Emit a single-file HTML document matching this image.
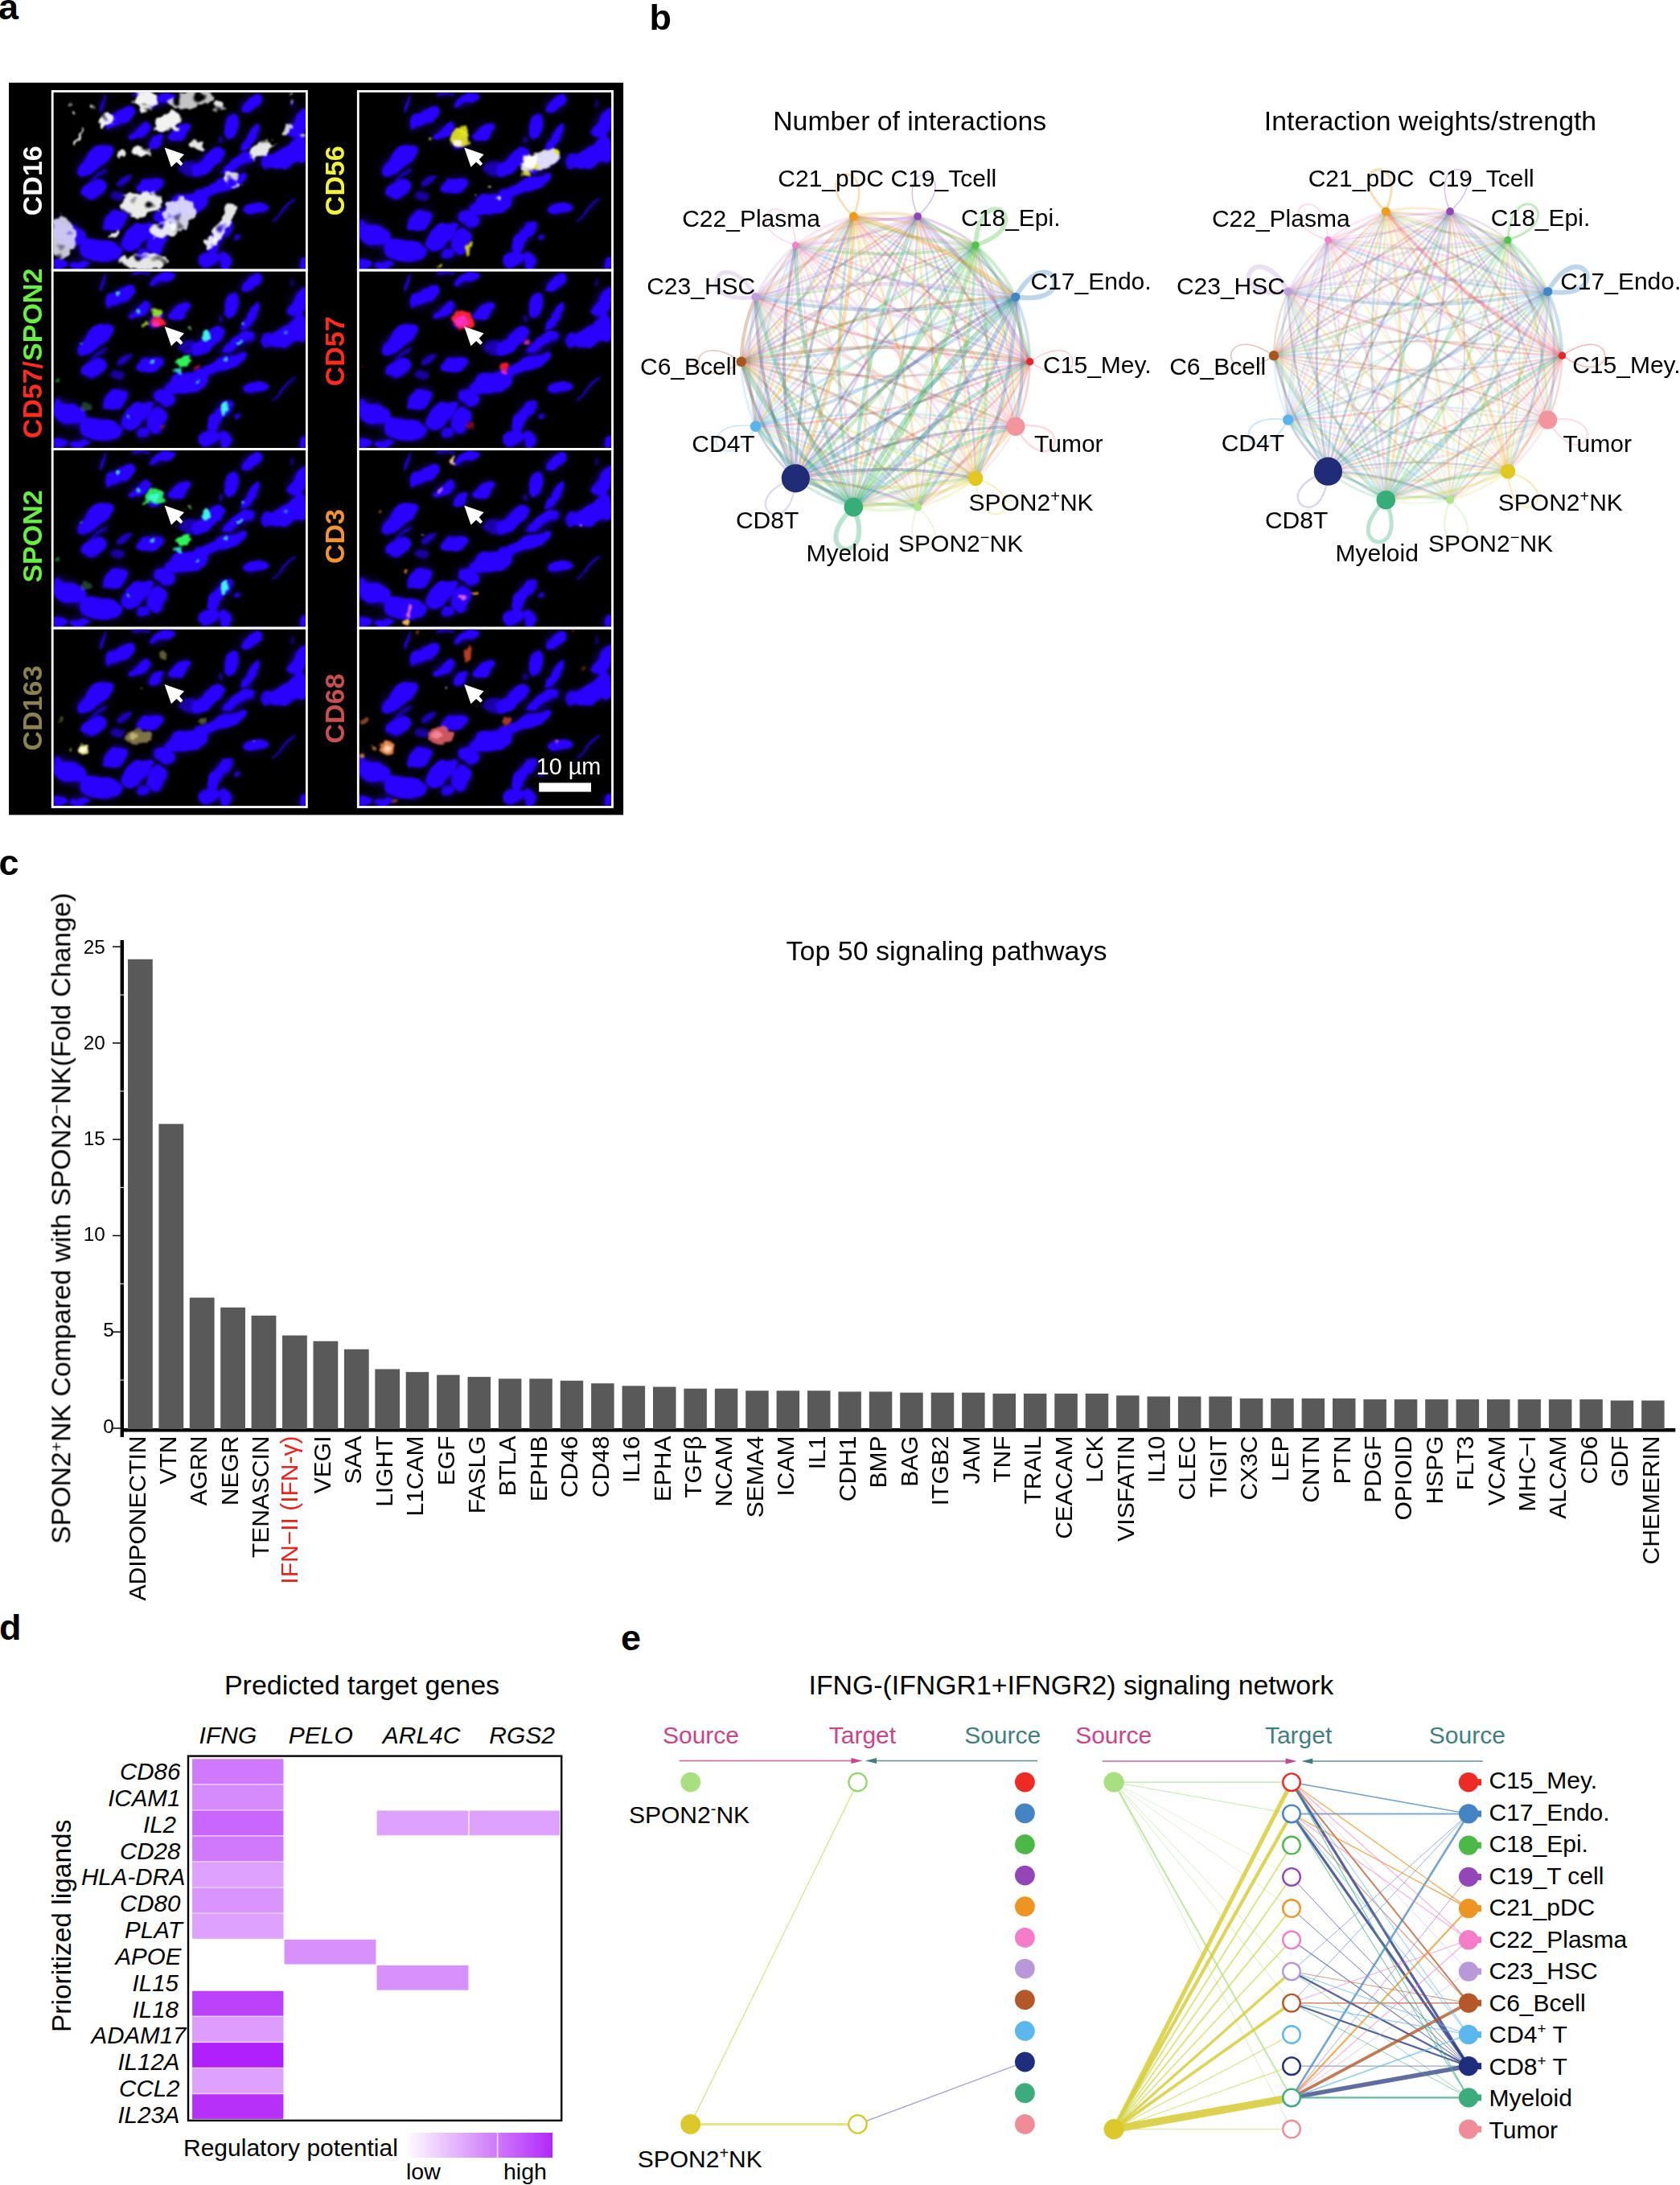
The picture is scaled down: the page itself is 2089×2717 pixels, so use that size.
<!DOCTYPE html>
<html lang="en"><head><meta charset="utf-8"><title>Figure</title>
<style>
html,body{margin:0;padding:0;background:#fff;}
body{width:2089px;height:2717px;overflow:hidden;}
svg{display:block;font-family:"Liberation Sans", sans-serif;}
svg text{font-family:"Liberation Sans", sans-serif;}
</style></head><body>
<svg width="2089" height="2717" viewBox="0 0 2089 2717">
<rect width="2089" height="2717" fill="#fff"/>
<g id="panel_a">
<text x="-2.0" y="23.6" font-size="45" font-weight="bold">a</text>
<rect x="11" y="102.8" width="764.1" height="910.5" fill="#000"/>
<defs><filter id="bl" x="-5%" y="-5%" width="110%" height="110%"><feGaussianBlur stdDeviation="1.3"/></filter><filter id="rg" x="-5%" y="-5%" width="110%" height="110%"><feTurbulence type="fractalNoise" baseFrequency="0.045" numOctaves="2" seed="4" result="n"/><feDisplacementMap in="SourceGraphic" in2="n" scale="13" xChannelSelector="R" yChannelSelector="G"/><feGaussianBlur stdDeviation="1.1"/></filter><filter id="rg2" x="-5%" y="-5%" width="110%" height="110%"><feTurbulence type="fractalNoise" baseFrequency="0.09" numOctaves="2" seed="9" result="n"/><feDisplacementMap in="SourceGraphic" in2="n" scale="16" xChannelSelector="R" yChannelSelector="G" result="d"/><feTurbulence type="fractalNoise" baseFrequency="0.075" numOctaves="1" seed="5" result="n2"/><feColorMatrix in="n2" type="matrix" values="0 0 0 0 1  0 0 0 0 1  0 0 0 0 1  7 0 0 0 -2.0" result="m"/><feComposite in="d" in2="m" operator="in"/><feGaussianBlur stdDeviation="0.9"/></filter><filter id="glow" x="-10%" y="-10%" width="120%" height="120%"><feGaussianBlur stdDeviation="5"/></filter><filter id="rg3" x="-5%" y="-5%" width="110%" height="110%"><feTurbulence type="fractalNoise" baseFrequency="0.11" numOctaves="2" seed="3" result="n"/><feDisplacementMap in="SourceGraphic" in2="n" scale="9" xChannelSelector="R" yChannelSelector="G"/><feGaussianBlur stdDeviation="1.1"/></filter><g id="cshape"><ellipse cx="81.9" cy="31.8" rx="20.5" ry="9.2" fill="#2a00ff" transform="rotate(-30 81.9 31.8)"/><ellipse cx="60.9" cy="14.1" rx="2.1" ry="11.9" fill="#2a00ff" opacity="0.9" transform="rotate(20 60.9 14.1)"/><ellipse cx="134.6" cy="9.2" rx="17.3" ry="5.8" fill="#2a00ff" transform="rotate(-25 134.6 9.2)"/><ellipse cx="106.1" cy="3.3" rx="10.8" ry="2.3" fill="#2a00ff" opacity="0.8" transform="rotate(-10 106.1 3.3)"/><ellipse cx="107.1" cy="48.5" rx="16.2" ry="6.9" fill="#2a00ff" transform="rotate(-30 107.1 48.5)"/><ellipse cx="156.2" cy="49.9" rx="16.2" ry="8.1" fill="#2a00ff" transform="rotate(-35 156.2 49.9)"/><ellipse cx="126.7" cy="61.3" rx="10.8" ry="6.9" fill="#2a00ff" transform="rotate(-20 126.7 61.3)"/><ellipse cx="51.1" cy="84.9" rx="27.0" ry="11.2" fill="#2a00ff" transform="rotate(-38 51.1 84.9)"/><ellipse cx="50.1" cy="121.2" rx="16.2" ry="9.2" fill="#2a00ff" transform="rotate(-25 50.1 121.2)"/><ellipse cx="56.0" cy="105.5" rx="17.3" ry="2.7" fill="#2a00ff" opacity="0.6" transform="rotate(-35 56.0 105.5)"/><ellipse cx="87.4" cy="109.4" rx="8.6" ry="3.9" fill="#2a00ff" opacity="0.7" transform="rotate(-30 87.4 109.4)"/><ellipse cx="120.8" cy="114.7" rx="17.3" ry="8.9" fill="#2a00ff" transform="rotate(-10 120.8 114.7)"/><ellipse cx="79.6" cy="128.1" rx="8.6" ry="6.2" fill="#2a00ff" opacity="0.55"/><ellipse cx="77.6" cy="158.5" rx="17.3" ry="11.2" fill="#2a00ff" transform="rotate(-35 77.6 158.5)"/><ellipse cx="18.7" cy="177.2" rx="20.5" ry="15.0" fill="#2a00ff" transform="rotate(20 18.7 177.2)"/><ellipse cx="57.9" cy="196.8" rx="28.1" ry="13.1" fill="#2a00ff" transform="rotate(10 57.9 196.8)"/><ellipse cx="103.1" cy="179.1" rx="23.8" ry="11.2" fill="#2a00ff" transform="rotate(-35 103.1 179.1)"/><ellipse cx="128.7" cy="186.0" rx="10.6" ry="16.2" fill="#2a00ff" transform="rotate(15 128.7 186.0)"/><ellipse cx="137.5" cy="156.6" rx="15.1" ry="10.6" fill="#2a00ff" transform="rotate(20 137.5 156.6)"/><ellipse cx="166.0" cy="138.9" rx="27.0" ry="12.1" fill="#2a00ff" transform="rotate(-10 166.0 138.9)"/><ellipse cx="211.2" cy="115.3" rx="30.3" ry="7.3" fill="#2a00ff" transform="rotate(-22 211.2 115.3)"/><ellipse cx="191.5" cy="86.8" rx="25.9" ry="9.2" fill="#2a00ff" transform="rotate(-40 191.5 86.8)"/><ellipse cx="228.8" cy="88.8" rx="25.9" ry="7.3" fill="#2a00ff" transform="rotate(-30 228.8 88.8)"/><ellipse cx="167.9" cy="94.7" rx="13.0" ry="9.2" fill="#2a00ff" opacity="0.55"/><ellipse cx="222.0" cy="42.6" rx="7.7" ry="16.2" fill="#2a00ff" transform="rotate(10 222.0 42.6)"/><ellipse cx="245.5" cy="57.4" rx="5.8" ry="19.4" fill="#2a00ff" transform="rotate(32 245.5 57.4)"/><ellipse cx="245.5" cy="14.1" rx="15.1" ry="8.3" fill="#2a00ff" transform="rotate(-35 245.5 14.1)"/><ellipse cx="305.4" cy="39.7" rx="10.6" ry="20.5" fill="#2a00ff" transform="rotate(25 305.4 39.7)"/><ellipse cx="291.7" cy="79.0" rx="25.9" ry="11.9" fill="#2a00ff" transform="rotate(-25 291.7 79.0)"/><ellipse cx="307.4" cy="71.1" rx="7.7" ry="17.3" fill="#2a00ff"/><ellipse cx="250.4" cy="144.8" rx="15.6" ry="5.8" fill="#2a00ff" transform="rotate(-8 250.4 144.8)"/><ellipse cx="204.3" cy="181.1" rx="6.9" ry="21.6" fill="#2a00ff" transform="rotate(22 204.3 181.1)"/><ellipse cx="216.1" cy="170.3" rx="4.6" ry="8.6" fill="#2a00ff" opacity="0.9"/><ellipse cx="226.9" cy="180.1" rx="2.7" ry="3.7" fill="#2a00ff" opacity="0.8"/><ellipse cx="193.5" cy="208.6" rx="11.9" ry="9.6" fill="#2a00ff" transform="rotate(-30 193.5 208.6)"/><ellipse cx="213.1" cy="209.6" rx="8.7" ry="10.8" fill="#2a00ff" transform="rotate(-20 213.1 209.6)"/><ellipse cx="32.4" cy="213.5" rx="13.0" ry="5.8" fill="#2a00ff"/><ellipse cx="309.4" cy="214.5" rx="4.8" ry="7.6" fill="#2a00ff" transform="rotate(30 309.4 214.5)"/><ellipse cx="7.9" cy="212.5" rx="8.6" ry="6.7" fill="#2a00ff"/><ellipse cx="207.6" cy="57.4" rx="2.7" ry="5.2" fill="#2a00ff" opacity="0.5"/><ellipse cx="296.6" cy="12.2" rx="2.7" ry="5.2" fill="#2a00ff" opacity="0.4"/><ellipse cx="111.0" cy="200.8" rx="8.6" ry="7.7" fill="#2a00ff" opacity="0.9"/><ellipse cx="181.7" cy="130.0" rx="13.0" ry="7.7" fill="#2a00ff" opacity="0.9" transform="rotate(-20 181.7 130.0)"/><ellipse cx="266.2" cy="84.9" rx="10.8" ry="7.7" fill="#2a00ff" opacity="0.9" transform="rotate(-20 266.2 84.9)"/><ellipse cx="4.9" cy="169.3" rx="7.7" ry="13.0" fill="#2a00ff" opacity="0.9"/><path d="M272.1 162.4L299.6 133.0" stroke="#2a00ff" stroke-width="2.4" opacity=".8"/></g><g id="cells"><use href="#cshape" filter="url(#glow)" opacity="0.5"/><use href="#cshape" filter="url(#rg)"/></g><path id="arw" d="M0 0 L24.4 8.6 L18.5 14.9 L22.9 20.2 L20.2 22.9 L14.9 18.2 L8.3 24.4 Z" fill="#fff"/></defs>
<svg x="66.6" y="114.9" width="313.4" height="219.7" viewBox="0 0 313.4 219.7" overflow="hidden">
<use href="#cells" x="0"/>
<g filter="url(#rg2)"><ellipse cx="114.2" cy="10.7" rx="14.3" ry="13.1" fill="#ffffff" opacity="0.95"/><ellipse cx="171.4" cy="8.3" rx="29.8" ry="10.0" fill="#d8d8d8" opacity="0.9" transform="rotate(-8 171.4 8.3)"/><ellipse cx="142.8" cy="36.9" rx="19.0" ry="11.4" fill="#ffffff" opacity="0.95" transform="rotate(-20 142.8 36.9)"/><ellipse cx="66.6" cy="34.5" rx="11.9" ry="5.7" fill="#ffffff" opacity="0.95" transform="rotate(-30 66.6 34.5)"/><ellipse cx="23.8" cy="20.2" rx="2.4" ry="8.1" fill="#ffffff" opacity="0.9" transform="rotate(-20 23.8 20.2)"/><ellipse cx="32.1" cy="55.9" rx="2.4" ry="13.1" fill="#ffffff" opacity="0.9" transform="rotate(25 32.1 55.9)"/><ellipse cx="109.5" cy="75.0" rx="11.9" ry="5.7" fill="#ffffff" opacity="0.95" transform="rotate(10 109.5 75.0)"/><ellipse cx="85.7" cy="77.3" rx="5.7" ry="5.7" fill="#ffffff" opacity="0.9"/><ellipse cx="178.5" cy="66.6" rx="9.5" ry="3.6" fill="#ffffff" opacity="0.9" transform="rotate(30 178.5 66.6)"/><ellipse cx="204.7" cy="17.8" rx="6.7" ry="7.1" fill="#ffffff" opacity="0.9"/><ellipse cx="295.1" cy="10.7" rx="2.1" ry="8.6" fill="#ffffff" opacity="0.8" transform="rotate(15 295.1 10.7)"/><ellipse cx="259.4" cy="70.2" rx="16.7" ry="8.6" fill="#ffffff" opacity="0.9" transform="rotate(-25 259.4 70.2)"/><ellipse cx="290.4" cy="46.4" rx="7.1" ry="4.3" fill="#ffffff" opacity="0.8" transform="rotate(-30 290.4 46.4)"/><ellipse cx="221.3" cy="108.3" rx="9.0" ry="9.0" fill="#ffffff" opacity="0.85"/><ellipse cx="109.5" cy="139.2" rx="26.2" ry="16.2" fill="#ffffff" opacity="0.92" transform="rotate(-10 109.5 139.2)"/><ellipse cx="157.1" cy="151.1" rx="18.6" ry="19.0" fill="#e8e8ff" opacity="0.9"/><ellipse cx="138.0" cy="170.2" rx="19.0" ry="9.5" fill="#ffffff" opacity="0.9"/><ellipse cx="76.2" cy="177.3" rx="8.1" ry="3.8" fill="#ffffff" opacity="0.9" transform="rotate(-40 76.2 177.3)"/><ellipse cx="211.8" cy="163.0" rx="6.7" ry="28.6" fill="#ffffff" opacity="0.9" transform="rotate(30 211.8 163.0)"/><ellipse cx="195.2" cy="186.8" rx="7.1" ry="9.5" fill="#ffffff" opacity="0.9"/><ellipse cx="9.5" cy="179.7" rx="16.2" ry="26.2" fill="#dcdcf0" opacity="0.9"/><ellipse cx="111.9" cy="210.6" rx="30.9" ry="9.5" fill="#ffffff" opacity="0.9"/><ellipse cx="309.4" cy="53.5" rx="4.8" ry="3.3" fill="#ffffff" opacity="0.7"/><ellipse cx="47.6" cy="15.5" rx="3.3" ry="2.4" fill="#ffffff" opacity="0.8"/></g>
<use href="#arw" x="138" y="68.5"/>
</svg>
<rect x="65.2" y="113.5" width="316.2" height="222.5" fill="none" stroke="#fff" stroke-width="2.8"/>
<text x="52.2" y="224.7" font-size="34" text-anchor="middle" font-weight="bold" transform="rotate(-90 52.2 224.7)"><tspan fill="#fff">CD16</tspan></text>
<svg x="66.6" y="337.4" width="313.4" height="219.7" viewBox="0 0 313.4 219.7" overflow="hidden">
<use href="#cells" x="0"/>
<g filter="url(#rg3)"><ellipse cx="79.6" cy="27.5" rx="3.5" ry="2.8" fill="#40ffe8" opacity="0.9" transform="rotate(-30 79.6 27.5)"/><ellipse cx="106.1" cy="50.1" rx="2.4" ry="2.0" fill="#40ffe8" opacity="0.8"/><ellipse cx="189.6" cy="79.6" rx="4.3" ry="6.9" fill="#40ffe8" opacity="0.95" transform="rotate(10 189.6 79.6)"/><ellipse cx="236.7" cy="64.8" rx="2.0" ry="2.0" fill="#40ffe8" opacity="0.8"/><ellipse cx="230.8" cy="88.4" rx="3.1" ry="2.0" fill="#40ffe8" opacity="0.85" transform="rotate(-20 230.8 88.4)"/><ellipse cx="120.8" cy="112.0" rx="2.9" ry="2.9" fill="#40ffe8" opacity="0.8"/><ellipse cx="213.1" cy="108.0" rx="2.8" ry="3.1" fill="#40ffe8" opacity="0.8"/><ellipse cx="213.1" cy="170.9" rx="4.7" ry="8.3" fill="#40ffe8" opacity="0.95" transform="rotate(30 213.1 170.9)"/><ellipse cx="34.4" cy="89.4" rx="1.6" ry="1.6" fill="#40ffe8" opacity="0.7"/><ellipse cx="93.3" cy="180.7" rx="2.4" ry="2.4" fill="#40ffe8" opacity="0.75"/><ellipse cx="179.7" cy="137.5" rx="2.4" ry="2.0" fill="#40ffe8" opacity="0.8"/><ellipse cx="162.1" cy="112.0" rx="8.3" ry="7.5" fill="#30ff60" opacity="0.95" transform="rotate(-30 162.1 112.0)"/><ellipse cx="155.2" cy="122.8" rx="3.9" ry="3.5" fill="#40ffe8" opacity="0.8"/><ellipse cx="3.9" cy="134.6" rx="3.1" ry="4.3" fill="#20a040" opacity="0.7"/><ellipse cx="40.3" cy="168.9" rx="7.9" ry="5.9" fill="#80ffb0" opacity="0.25"/><ellipse cx="289.7" cy="76.6" rx="2.0" ry="2.8" fill="#40ffe8" opacity="0.6"/><ellipse cx="169.9" cy="72.7" rx="1.6" ry="1.6" fill="#a0ffa0" opacity="0.6"/><ellipse cx="128.7" cy="51.1" rx="6.3" ry="5.9" fill="#a0f030" opacity="0.9"/><ellipse cx="113.9" cy="64.8" rx="3.9" ry="2.8" fill="#a0e020" opacity="0.85" transform="rotate(-30 113.9 64.8)"/><ellipse cx="128.7" cy="63.8" rx="8.3" ry="6.7" fill="#ff2030" opacity="0.97"/><ellipse cx="128.7" cy="65.2" rx="4.3" ry="3.5" fill="#ff30c8" opacity="0.95"/><ellipse cx="177.8" cy="119.8" rx="4.9" ry="2.0" fill="#c01010" opacity="0.8" transform="rotate(-40 177.8 119.8)"/><ellipse cx="136.5" cy="194.5" rx="2.8" ry="3.9" fill="#a02020" opacity="0.5"/></g>
<use href="#arw" x="138" y="68.5"/>
</svg>
<rect x="65.2" y="336.0" width="316.2" height="222.5" fill="none" stroke="#fff" stroke-width="2.8"/>
<text x="52.2" y="439.5" font-size="34" text-anchor="middle" font-weight="bold" transform="rotate(-90 52.2 439.5)"><tspan fill="#ff2a1a">CD57/</tspan><tspan fill="#66f040">SPON2</tspan></text>
<svg x="66.6" y="559.9" width="313.4" height="219.7" viewBox="0 0 313.4 219.7" overflow="hidden">
<use href="#cells" x="0"/>
<g filter="url(#rg3)"><ellipse cx="79.6" cy="27.5" rx="3.5" ry="2.8" fill="#40ffe8" opacity="0.9" transform="rotate(-30 79.6 27.5)"/><ellipse cx="106.1" cy="50.1" rx="2.4" ry="2.0" fill="#40ffe8" opacity="0.8"/><ellipse cx="189.6" cy="79.6" rx="4.3" ry="6.9" fill="#40ffe8" opacity="0.95" transform="rotate(10 189.6 79.6)"/><ellipse cx="236.7" cy="64.8" rx="2.0" ry="2.0" fill="#40ffe8" opacity="0.8"/><ellipse cx="230.8" cy="88.4" rx="3.1" ry="2.0" fill="#40ffe8" opacity="0.85" transform="rotate(-20 230.8 88.4)"/><ellipse cx="120.8" cy="112.0" rx="2.9" ry="2.9" fill="#40ffe8" opacity="0.8"/><ellipse cx="213.1" cy="108.0" rx="2.8" ry="3.1" fill="#40ffe8" opacity="0.8"/><ellipse cx="213.1" cy="170.9" rx="4.7" ry="8.3" fill="#40ffe8" opacity="0.95" transform="rotate(30 213.1 170.9)"/><ellipse cx="34.4" cy="89.4" rx="1.6" ry="1.6" fill="#40ffe8" opacity="0.7"/><ellipse cx="93.3" cy="180.7" rx="2.4" ry="2.4" fill="#40ffe8" opacity="0.75"/><ellipse cx="179.7" cy="137.5" rx="2.4" ry="2.0" fill="#40ffe8" opacity="0.8"/><ellipse cx="162.1" cy="112.0" rx="8.3" ry="7.5" fill="#30ff60" opacity="0.95" transform="rotate(-30 162.1 112.0)"/><ellipse cx="155.2" cy="122.8" rx="3.9" ry="3.5" fill="#40ffe8" opacity="0.8"/><ellipse cx="3.9" cy="134.6" rx="3.1" ry="4.3" fill="#20a040" opacity="0.7"/><ellipse cx="40.3" cy="168.9" rx="7.9" ry="5.9" fill="#80ffb0" opacity="0.25"/><ellipse cx="289.7" cy="76.6" rx="2.0" ry="2.8" fill="#40ffe8" opacity="0.6"/><ellipse cx="169.9" cy="72.7" rx="1.6" ry="1.6" fill="#a0ffa0" opacity="0.6"/><ellipse cx="126.7" cy="57.0" rx="11.4" ry="9.8" fill="#30ff60" opacity="0.9"/><ellipse cx="124.7" cy="58.9" rx="5.5" ry="4.7" fill="#40ffe8" opacity="0.85"/><ellipse cx="114.9" cy="63.8" rx="3.9" ry="2.4" fill="#30ff60" opacity="0.8" transform="rotate(-30 114.9 63.8)"/></g>
<use href="#arw" x="138" y="68.5"/>
</svg>
<rect x="65.2" y="558.5" width="316.2" height="222.5" fill="none" stroke="#fff" stroke-width="2.8"/>
<text x="52.2" y="667.0" font-size="34" text-anchor="middle" font-weight="bold" transform="rotate(-90 52.2 667.0)"><tspan fill="#66f040">SPON2</tspan></text>
<svg x="66.6" y="782.4" width="313.4" height="219.7" viewBox="0 0 313.4 219.7" overflow="hidden">
<use href="#cells" x="0"/>
<g filter="url(#rg3)"><ellipse cx="137.5" cy="32.8" rx="5.5" ry="6.7" fill="#a09858" opacity="0.6"/><ellipse cx="37.3" cy="149.7" rx="6.7" ry="5.9" fill="#ffffa0" opacity="0.95"/><ellipse cx="37.3" cy="149.7" rx="3.1" ry="2.8" fill="#ffffff" opacity="0.9"/><ellipse cx="20.6" cy="149.7" rx="2.4" ry="2.4" fill="#c0b060" opacity="0.6"/><ellipse cx="105.1" cy="134.0" rx="16.7" ry="8.8" fill="#a89860" opacity="0.75"/><ellipse cx="99.2" cy="133.0" rx="5.9" ry="4.3" fill="#e0d080" opacity="0.7"/><ellipse cx="185.6" cy="114.3" rx="4.9" ry="4.3" fill="#908840" opacity="0.6"/><ellipse cx="8.8" cy="112.4" rx="2.9" ry="2.8" fill="#908840" opacity="0.5"/><ellipse cx="110.0" cy="74.1" rx="1.8" ry="1.8" fill="#d0d0c0" opacity="0.6"/><ellipse cx="248.5" cy="139.9" rx="1.6" ry="1.6" fill="#c0b0ff" opacity="0.5"/></g>
<use href="#arw" x="138" y="68.5"/>
</svg>
<rect x="65.2" y="781.0" width="316.2" height="222.5" fill="none" stroke="#fff" stroke-width="2.8"/>
<text x="52.2" y="880.6" font-size="34" text-anchor="middle" font-weight="bold" transform="rotate(-90 52.2 880.6)"><tspan fill="#8c8250">CD163</tspan></text>
<svg x="446.7" y="114.9" width="313.4" height="219.7" viewBox="0 0 313.4 219.7" overflow="hidden">
<use href="#cells" x="-1.6"/>
<g filter="url(#rg3)"><ellipse cx="125.1" cy="57.0" rx="11.4" ry="12.2" fill="#e8e820" opacity="0.92"/><ellipse cx="129.1" cy="47.1" rx="4.3" ry="7.9" fill="#e8e820" opacity="0.9" transform="rotate(10 129.1 47.1)"/><ellipse cx="122.2" cy="63.8" rx="5.9" ry="4.3" fill="#ffffe8" opacity="0.95"/><ellipse cx="225.3" cy="84.5" rx="27.5" ry="10.2" fill="#f4f4ff" opacity="0.9" transform="rotate(-20 225.3 84.5)"/><ellipse cx="211.6" cy="86.4" rx="9.0" ry="9.0" fill="#ffffff" opacity="0.95"/><ellipse cx="246.9" cy="73.7" rx="5.1" ry="4.3" fill="#e8e820" opacity="0.9"/><ellipse cx="207.6" cy="100.2" rx="4.3" ry="3.5" fill="#e8e820" opacity="0.9"/><ellipse cx="219.4" cy="94.3" rx="3.9" ry="3.5" fill="#e8e820" opacity="0.85"/><ellipse cx="88.8" cy="57.9" rx="2.4" ry="2.0" fill="#e8e820" opacity="0.7"/><ellipse cx="162.4" cy="117.9" rx="2.0" ry="2.0" fill="#ffffc0" opacity="0.9"/><ellipse cx="172.3" cy="131.6" rx="1.6" ry="2.0" fill="#ffffc0" opacity="0.9"/><ellipse cx="144.8" cy="127.7" rx="1.4" ry="1.4" fill="#ffffc0" opacity="0.8"/><ellipse cx="135.9" cy="194.5" rx="2.8" ry="9.8" fill="#e8e820" opacity="0.85" transform="rotate(15 135.9 194.5)"/><ellipse cx="100.6" cy="216.1" rx="3.1" ry="2.4" fill="#e8e820" opacity="0.8"/></g>
<use href="#arw" x="130.5" y="68.5"/>
</svg>
<rect x="445.3" y="113.5" width="316.2" height="222.5" fill="none" stroke="#fff" stroke-width="2.8"/>
<text x="428.0" y="224.7" font-size="34" text-anchor="middle" font-weight="bold" transform="rotate(-90 428.0 224.7)"><tspan fill="#f2f23c">CD56</tspan></text>
<svg x="446.7" y="337.4" width="313.4" height="219.7" viewBox="0 0 313.4 219.7" overflow="hidden">
<use href="#cells" x="-1.6"/>
<g filter="url(#rg3)"><ellipse cx="129.1" cy="60.4" rx="12.9" ry="12.1" fill="#ff2030" opacity="0.97"/><ellipse cx="127.1" cy="62.5" rx="7.9" ry="6.7" fill="#ff30c8" opacity="0.97"/><ellipse cx="208.3" cy="87.5" rx="5.4" ry="4.6" fill="#ff30c8" opacity="0.8" transform="rotate(-30 208.3 87.5)"/><ellipse cx="180.2" cy="118.7" rx="5.8" ry="5.4" fill="#ff2030" opacity="0.9"/><ellipse cx="180.2" cy="126.0" rx="4.2" ry="2.9" fill="#ff30c8" opacity="0.8"/><ellipse cx="138.5" cy="192.7" rx="4.6" ry="5.8" fill="#c01020" opacity="0.6"/><ellipse cx="4.2" cy="118.7" rx="1.7" ry="2.1" fill="#c01020" opacity="0.6"/></g>
<use href="#arw" x="130.5" y="68.5"/>
</svg>
<rect x="445.3" y="336.0" width="316.2" height="222.5" fill="none" stroke="#fff" stroke-width="2.8"/>
<text x="428.0" y="436.9" font-size="34" text-anchor="middle" font-weight="bold" transform="rotate(-90 428.0 436.9)"><tspan fill="#ff2a1a">CD57</tspan></text>
<svg x="446.7" y="559.9" width="313.4" height="219.7" viewBox="0 0 313.4 219.7" overflow="hidden">
<use href="#cells" x="-1.6"/>
<g filter="url(#rg3)"><ellipse cx="117.3" cy="11.8" rx="2.2" ry="6.7" fill="#ffd0a0" opacity="0.95" transform="rotate(8 117.3 11.8)"/><ellipse cx="100.6" cy="51.1" rx="5.1" ry="2.0" fill="#e080ff" opacity="0.8" transform="rotate(-45 100.6 51.1)"/><ellipse cx="24.9" cy="76.6" rx="1.6" ry="1.6" fill="#ffa030" opacity="0.9"/><ellipse cx="78.0" cy="104.1" rx="1.2" ry="1.2" fill="#ffffff" opacity="0.7"/><ellipse cx="276.4" cy="93.3" rx="1.4" ry="2.4" fill="#ffb0a0" opacity="0.9"/><ellipse cx="59.3" cy="149.3" rx="2.2" ry="2.6" fill="#ffa030" opacity="0.85"/><ellipse cx="129.1" cy="181.7" rx="4.3" ry="2.8" fill="#ff70d0" opacity="0.85"/><ellipse cx="143.8" cy="177.8" rx="4.3" ry="1.8" fill="#ffa030" opacity="0.9" transform="rotate(-25 143.8 177.8)"/><ellipse cx="62.3" cy="200.4" rx="2.8" ry="9.0" fill="#ff70d0" opacity="0.85" transform="rotate(8 62.3 200.4)"/><ellipse cx="58.3" cy="214.1" rx="3.5" ry="3.9" fill="#ffc060" opacity="0.95"/></g>
<use href="#arw" x="130.5" y="68.5"/>
</svg>
<rect x="445.3" y="558.5" width="316.2" height="222.5" fill="none" stroke="#fff" stroke-width="2.8"/>
<text x="428.0" y="667.0" font-size="34" text-anchor="middle" font-weight="bold" transform="rotate(-90 428.0 667.0)"><tspan fill="#f29434">CD3</tspan></text>
<svg x="446.7" y="782.4" width="313.4" height="219.7" viewBox="0 0 313.4 219.7" overflow="hidden">
<use href="#cells" x="-1.6"/>
<g filter="url(#rg3)"><ellipse cx="135.7" cy="31.4" rx="5.7" ry="10.5" fill="#d04828" opacity="0.85" transform="rotate(8 135.7 31.4)"/><ellipse cx="108.3" cy="73.8" rx="1.9" ry="1.9" fill="#ffd0f0" opacity="0.9"/><ellipse cx="101.1" cy="132.6" rx="15.7" ry="10.5" fill="#e06068" opacity="0.9"/><ellipse cx="96.4" cy="131.4" rx="7.1" ry="4.8" fill="#ff90a0" opacity="0.8"/><ellipse cx="183.3" cy="113.5" rx="6.2" ry="5.2" fill="#c84830" opacity="0.8"/><ellipse cx="34.5" cy="148.0" rx="9.5" ry="8.6" fill="#ff9050" opacity="0.9"/><ellipse cx="35.7" cy="148.5" rx="4.8" ry="4.3" fill="#ffe0c0" opacity="0.9"/><ellipse cx="5.9" cy="113.5" rx="4.8" ry="3.8" fill="#c06030" opacity="0.7"/><ellipse cx="3.6" cy="156.4" rx="2.9" ry="2.4" fill="#ffa030" opacity="0.8"/><ellipse cx="245.1" cy="140.4" rx="2.4" ry="2.1" fill="#ff80e0" opacity="0.7"/><ellipse cx="72.6" cy="2.4" rx="2.4" ry="2.1" fill="#c05020" opacity="0.7"/><ellipse cx="265.4" cy="2.4" rx="2.4" ry="2.1" fill="#a04020" opacity="0.6"/><ellipse cx="279.6" cy="48.1" rx="2.9" ry="2.9" fill="#a04020" opacity="0.5"/><ellipse cx="45.2" cy="212.3" rx="3.6" ry="3.3" fill="#b05020" opacity="0.7"/><ellipse cx="17.8" cy="148.0" rx="2.9" ry="2.4" fill="#ff9050" opacity="0.7"/></g>
<use href="#arw" x="130.5" y="68.5"/>
</svg>
<rect x="445.3" y="781.0" width="316.2" height="222.5" fill="none" stroke="#fff" stroke-width="2.8"/>
<text x="428.0" y="881.1" font-size="34" text-anchor="middle" font-weight="bold" transform="rotate(-90 428.0 881.1)"><tspan fill="#c8504c">CD68</tspan></text>
<rect x="670.2" y="973.4" width="64.8" height="11.2" fill="#fff"/>
<text x="707.0" y="963.0" font-size="28.8" text-anchor="middle" fill="#fff">10 µm</text>
</g>
<g id="panel_b">
<text x="807.5" y="36.8" font-size="45" font-weight="bold">b</text>
<text x="1131.2" y="161.5" font-size="33.8" text-anchor="middle">Number of interactions</text>
<text x="1778.5" y="161.7" font-size="33.8" text-anchor="middle">Interaction weights/strength</text>
<g fill="none" stroke-linecap="round"><path d="M1141.1 269.0Q1068.8 302.0 989.3 304.8" stroke="#8f44b8" stroke-width="2.50" opacity="0.20"/><path d="M1280.7 449.8Q1120.5 406.4 989.3 304.8" stroke="#e8262a" stroke-width="2.50" opacity="0.20"/><path d="M1262.9 530.3Q1103.6 444.9 989.3 304.8" stroke="#f2959d" stroke-width="2.50" opacity="0.20"/><path d="M1141.1 269.0Q1177.3 449.8 1141.1 630.6" stroke="#8f44b8" stroke-width="2.50" opacity="0.20"/><path d="M989.3 304.8Q970.0 384.0 921.7 449.8" stroke="#f27fd0" stroke-width="2.50" opacity="0.20"/><path d="M1280.7 449.8Q1192.8 373.3 1141.1 269.0" stroke="#e8262a" stroke-width="2.50" opacity="0.20"/><path d="M1280.7 449.8Q1101.2 485.7 921.7 449.8" stroke="#e8262a" stroke-width="2.50" opacity="0.21"/><path d="M989.3 304.8Q1061.6 271.7 1141.1 269.0" stroke="#f27fd0" stroke-width="2.51" opacity="0.21"/><path d="M939.5 530.3Q1050.3 560.3 1141.1 630.6" stroke="#58b4ec" stroke-width="2.53" opacity="0.21"/><path d="M939.5 369.3Q1098.8 454.7 1213.1 594.8" stroke="#c0a0dc" stroke-width="2.53" opacity="0.21"/><path d="M1262.9 530.3Q1244.5 567.5 1213.1 594.8" stroke="#f2959d" stroke-width="2.53" opacity="0.21"/><path d="M939.5 530.3Q1014.2 379.5 1141.1 269.0" stroke="#58b4ec" stroke-width="2.54" opacity="0.21"/><path d="M989.3 304.8Q970.8 342.0 939.5 369.3" stroke="#f27fd0" stroke-width="2.54" opacity="0.21"/><path d="M989.3 304.8Q1018.3 449.8 989.3 594.8" stroke="#f27fd0" stroke-width="2.54" opacity="0.21"/><path d="M1280.7 449.8Q1232.4 384.0 1213.1 304.8" stroke="#e8262a" stroke-width="2.55" opacity="0.21"/><path d="M1213.1 594.8Q1072.2 472.2 989.3 304.8" stroke="#e2c820" stroke-width="2.55" opacity="0.21"/><path d="M989.3 304.8Q1021.7 279.7 1061.3 269.0" stroke="#f27fd0" stroke-width="2.56" opacity="0.21"/><path d="M1280.7 449.8Q1261.4 529.1 1213.1 594.8" stroke="#e8262a" stroke-width="2.56" opacity="0.21"/><path d="M1262.9 530.3Q1212.1 592.6 1141.1 630.6" stroke="#f2959d" stroke-width="2.58" opacity="0.21"/><path d="M989.3 594.8Q957.9 567.5 939.5 530.3" stroke="#202c78" stroke-width="2.59" opacity="0.21"/><path d="M989.3 304.8Q1132.6 309.7 1262.9 369.3" stroke="#f27fd0" stroke-width="2.60" opacity="0.21"/><path d="M939.5 530.3Q1102.0 455.9 1280.7 449.8" stroke="#58b4ec" stroke-width="2.61" opacity="0.21"/><path d="M1262.9 530.3Q1215.5 422.5 1213.1 304.8" stroke="#f2959d" stroke-width="2.61" opacity="0.21"/><path d="M921.7 449.8Q941.0 370.5 989.3 304.8" stroke="#a8561f" stroke-width="2.62" opacity="0.21"/><path d="M1213.1 304.8Q1260.6 412.5 1262.9 530.3" stroke="#4fc24a" stroke-width="2.64" opacity="0.21"/><path d="M939.5 530.3Q1082.8 535.2 1213.1 594.8" stroke="#58b4ec" stroke-width="2.65" opacity="0.21"/><path d="M939.5 530.3Q922.5 491.8 921.7 449.8" stroke="#58b4ec" stroke-width="2.66" opacity="0.21"/><path d="M939.5 369.3Q1069.8 309.7 1213.1 304.8" stroke="#c0a0dc" stroke-width="2.67" opacity="0.21"/><path d="M989.3 304.8Q1097.8 452.5 1141.1 630.6" stroke="#f27fd0" stroke-width="2.67" opacity="0.21"/><path d="M1141.1 630.6Q1030.3 600.6 939.5 530.3" stroke="#aee68a" stroke-width="2.67" opacity="0.21"/><path d="M1280.7 449.8Q1279.9 491.8 1262.9 530.3" stroke="#e8262a" stroke-width="2.68" opacity="0.21"/><path d="M1141.1 269.0Q1066.4 419.8 939.5 530.3" stroke="#8f44b8" stroke-width="2.69" opacity="0.21"/><path d="M1280.7 449.8Q1189.1 562.2 1061.3 630.6" stroke="#e8262a" stroke-width="2.71" opacity="0.22"/><path d="M1213.1 594.8Q1180.7 619.9 1141.1 630.6" stroke="#e2c820" stroke-width="2.72" opacity="0.22"/><path d="M1141.1 630.6Q1105.0 449.8 1141.1 269.0" stroke="#aee68a" stroke-width="2.72" opacity="0.22"/><path d="M1262.9 530.3Q1175.9 411.8 1141.1 269.0" stroke="#f2959d" stroke-width="2.72" opacity="0.22"/><path d="M921.7 449.8Q973.4 345.4 1061.3 269.0" stroke="#a8561f" stroke-width="2.72" opacity="0.22"/><path d="M1141.1 630.6Q1173.5 605.5 1213.1 594.8" stroke="#aee68a" stroke-width="2.73" opacity="0.22"/><path d="M1141.1 269.0Q1050.3 339.3 939.5 369.3" stroke="#8f44b8" stroke-width="2.75" opacity="0.22"/><path d="M1262.9 369.3Q1192.0 331.3 1141.1 269.0" stroke="#3f87c6" stroke-width="2.76" opacity="0.22"/><path d="M1262.9 369.3Q1152.1 339.3 1061.3 269.0" stroke="#3f87c6" stroke-width="2.76" opacity="0.22"/><path d="M989.3 304.8Q1101.2 282.4 1213.1 304.8" stroke="#f27fd0" stroke-width="2.76" opacity="0.22"/><path d="M1141.1 269.0Q1137.4 457.8 1061.3 630.6" stroke="#8f44b8" stroke-width="2.76" opacity="0.22"/><path d="M939.5 530.3Q1010.4 568.3 1061.3 630.6" stroke="#58b4ec" stroke-width="2.77" opacity="0.22"/><path d="M921.7 449.8Q1049.5 518.3 1141.1 630.6" stroke="#a8561f" stroke-width="2.78" opacity="0.22"/><path d="M1262.9 530.3Q1246.8 449.8 1262.9 369.3" stroke="#f2959d" stroke-width="2.79" opacity="0.22"/><path d="M1141.1 630.6Q1175.9 487.8 1262.9 369.3" stroke="#aee68a" stroke-width="2.79" opacity="0.22"/><path d="M921.7 449.8Q1013.3 337.4 1141.1 269.0" stroke="#a8561f" stroke-width="2.80" opacity="0.22"/><path d="M1213.1 594.8Q1053.7 509.4 939.5 369.3" stroke="#e2c820" stroke-width="2.80" opacity="0.22"/><path d="M1280.7 449.8Q1118.1 524.2 939.5 530.3" stroke="#e8262a" stroke-width="2.81" opacity="0.22"/><path d="M1141.1 630.6Q1192.0 568.3 1262.9 530.3" stroke="#aee68a" stroke-width="2.81" opacity="0.22"/><path d="M1141.1 269.0Q1228.2 387.4 1262.9 530.3" stroke="#8f44b8" stroke-width="2.83" opacity="0.22"/><path d="M939.5 369.3Q1117.3 417.5 1262.9 530.3" stroke="#c0a0dc" stroke-width="2.83" opacity="0.22"/><path d="M939.5 530.3Q941.8 412.5 989.3 304.8" stroke="#58b4ec" stroke-width="2.83" opacity="0.22"/><path d="M1213.1 594.8Q1104.6 447.1 1061.3 269.0" stroke="#e2c820" stroke-width="2.83" opacity="0.22"/><path d="M1141.1 269.0Q1212.1 307.0 1262.9 369.3" stroke="#8f44b8" stroke-width="2.84" opacity="0.22"/><path d="M1061.3 269.0Q1188.2 379.5 1262.9 530.3" stroke="#f09a16" stroke-width="2.85" opacity="0.22"/><path d="M1061.3 269.0Q1169.8 416.7 1213.1 594.8" stroke="#f09a16" stroke-width="2.85" opacity="0.22"/><path d="M1061.3 269.0Q1189.1 337.4 1280.7 449.8" stroke="#f09a16" stroke-width="2.85" opacity="0.22"/><path d="M1280.7 449.8Q1152.9 381.3 1061.3 269.0" stroke="#e8262a" stroke-width="2.88" opacity="0.22"/><path d="M921.7 449.8Q1052.9 348.1 1213.1 304.8" stroke="#a8561f" stroke-width="2.88" opacity="0.22"/><path d="M989.3 594.8Q1032.6 416.7 1141.1 269.0" stroke="#202c78" stroke-width="2.91" opacity="0.23"/><path d="M939.5 530.3Q1101.2 497.9 1262.9 530.3" stroke="#58b4ec" stroke-width="2.91" opacity="0.23"/><path d="M1262.9 530.3Q1084.3 524.2 921.7 449.8" stroke="#f2959d" stroke-width="2.92" opacity="0.23"/><path d="M1141.1 269.0Q1097.8 447.1 989.3 594.8" stroke="#8f44b8" stroke-width="2.94" opacity="0.23"/><path d="M1141.1 269.0Q1209.7 424.7 1213.1 594.8" stroke="#8f44b8" stroke-width="2.94" opacity="0.23"/><path d="M939.5 530.3Q923.4 449.8 939.5 369.3" stroke="#58b4ec" stroke-width="2.97" opacity="0.23"/><path d="M1061.3 269.0Q1140.8 271.7 1213.1 304.8" stroke="#f09a16" stroke-width="2.98" opacity="0.23"/><path d="M989.3 304.8Q986.9 422.5 939.5 530.3" stroke="#f27fd0" stroke-width="2.98" opacity="0.23"/><path d="M1280.7 449.8Q1229.0 554.2 1141.1 630.6" stroke="#e8262a" stroke-width="3.01" opacity="0.23"/><path d="M1061.3 269.0Q1009.6 373.3 921.7 449.8" stroke="#f09a16" stroke-width="3.03" opacity="0.23"/><path d="M939.5 369.3Q1066.4 479.8 1141.1 630.6" stroke="#c0a0dc" stroke-width="3.04" opacity="0.23"/><path d="M1262.9 530.3Q1101.2 562.6 939.5 530.3" stroke="#f2959d" stroke-width="3.04" opacity="0.23"/><path d="M1061.3 269.0Q1097.4 449.8 1061.3 630.6" stroke="#f09a16" stroke-width="3.06" opacity="0.23"/><path d="M989.3 594.8Q1068.8 597.6 1141.1 630.6" stroke="#202c78" stroke-width="3.07" opacity="0.23"/><path d="M1213.1 594.8Q1069.8 589.9 939.5 530.3" stroke="#e2c820" stroke-width="3.08" opacity="0.23"/><path d="M1141.1 269.0Q1180.7 279.7 1213.1 304.8" stroke="#8f44b8" stroke-width="3.09" opacity="0.23"/><path d="M939.5 530.3Q1053.7 390.2 1213.1 304.8" stroke="#58b4ec" stroke-width="3.10" opacity="0.24"/><path d="M989.3 304.8Q1148.7 390.2 1262.9 530.3" stroke="#f27fd0" stroke-width="3.10" opacity="0.24"/><path d="M989.3 304.8Q1057.9 460.5 1061.3 630.6" stroke="#f27fd0" stroke-width="3.12" opacity="0.24"/><path d="M1141.1 630.6Q1013.3 562.2 921.7 449.8" stroke="#aee68a" stroke-width="3.14" opacity="0.24"/><path d="M1213.1 304.8Q1098.8 444.9 939.5 530.3" stroke="#4fc24a" stroke-width="3.15" opacity="0.24"/><path d="M989.3 304.8Q1130.2 427.4 1213.1 594.8" stroke="#f27fd0" stroke-width="3.15" opacity="0.24"/><path d="M989.3 594.8Q1072.2 427.4 1213.1 304.8" stroke="#202c78" stroke-width="3.16" opacity="0.24"/><path d="M1061.3 630.6Q1021.7 619.9 989.3 594.8" stroke="#35ae78" stroke-width="3.17" opacity="0.24"/><path d="M939.5 369.3Q957.9 332.1 989.3 304.8" stroke="#c0a0dc" stroke-width="3.17" opacity="0.24"/><path d="M921.7 449.8Q970.0 515.6 989.3 594.8" stroke="#a8561f" stroke-width="3.17" opacity="0.24"/><path d="M1061.3 269.0Q1028.9 294.1 989.3 304.8" stroke="#f09a16" stroke-width="3.18" opacity="0.24"/><path d="M1280.7 449.8Q1149.5 551.5 989.3 594.8" stroke="#e8262a" stroke-width="3.20" opacity="0.24"/><path d="M1061.3 269.0Q1137.4 441.8 1141.1 630.6" stroke="#f09a16" stroke-width="3.20" opacity="0.24"/><path d="M1141.1 630.6Q1065.0 457.8 1061.3 269.0" stroke="#aee68a" stroke-width="3.21" opacity="0.24"/><path d="M1141.1 630.6Q1032.6 482.9 989.3 304.8" stroke="#aee68a" stroke-width="3.24" opacity="0.24"/><path d="M1280.7 449.8Q1102.0 443.7 939.5 369.3" stroke="#e8262a" stroke-width="3.25" opacity="0.24"/><path d="M1061.3 630.6Q1133.6 597.6 1213.1 594.8" stroke="#35ae78" stroke-width="3.25" opacity="0.24"/><path d="M1213.1 304.8Q1082.8 364.4 939.5 369.3" stroke="#4fc24a" stroke-width="3.26" opacity="0.24"/><path d="M1262.9 369.3Q1100.4 443.7 921.7 449.8" stroke="#3f87c6" stroke-width="3.27" opacity="0.24"/><path d="M1262.9 369.3Q1119.6 364.4 989.3 304.8" stroke="#3f87c6" stroke-width="3.27" opacity="0.24"/><path d="M1141.1 630.6Q1014.2 520.1 939.5 369.3" stroke="#aee68a" stroke-width="3.28" opacity="0.24"/><path d="M1213.1 594.8Q1184.1 449.8 1213.1 304.8" stroke="#e2c820" stroke-width="3.28" opacity="0.24"/><path d="M1213.1 594.8Q1232.4 515.6 1280.7 449.8" stroke="#e2c820" stroke-width="3.28" opacity="0.24"/><path d="M1280.7 449.8Q1263.8 411.3 1262.9 369.3" stroke="#e8262a" stroke-width="3.31" opacity="0.25"/><path d="M1061.3 269.0Q1101.2 261.0 1141.1 269.0" stroke="#f09a16" stroke-width="3.34" opacity="0.25"/><path d="M1262.9 530.3Q1136.0 419.8 1061.3 269.0" stroke="#f2959d" stroke-width="3.36" opacity="0.25"/><path d="M1141.1 630.6Q1192.8 526.3 1280.7 449.8" stroke="#aee68a" stroke-width="3.37" opacity="0.25"/><path d="M1262.9 369.3Q1231.6 342.0 1213.1 304.8" stroke="#3f87c6" stroke-width="3.38" opacity="0.25"/><path d="M1141.1 630.6Q1061.6 627.9 989.3 594.8" stroke="#aee68a" stroke-width="3.42" opacity="0.25"/><path d="M921.7 449.8Q1100.4 455.9 1262.9 530.3" stroke="#a8561f" stroke-width="3.45" opacity="0.25"/><path d="M939.5 369.3Q990.3 307.0 1061.3 269.0" stroke="#c0a0dc" stroke-width="3.45" opacity="0.25"/><path d="M1141.1 269.0Q1049.5 381.3 921.7 449.8" stroke="#8f44b8" stroke-width="3.46" opacity="0.25"/><path d="M1141.1 269.0Q1101.2 276.9 1061.3 269.0" stroke="#8f44b8" stroke-width="3.46" opacity="0.25"/><path d="M1061.3 269.0Q1010.4 331.3 939.5 369.3" stroke="#f09a16" stroke-width="3.47" opacity="0.25"/><path d="M989.3 304.8Q1149.5 348.1 1280.7 449.8" stroke="#f27fd0" stroke-width="3.47" opacity="0.25"/><path d="M1213.1 304.8Q1081.9 406.4 921.7 449.8" stroke="#4fc24a" stroke-width="3.48" opacity="0.25"/><path d="M1213.1 594.8Q1052.9 551.5 921.7 449.8" stroke="#e2c820" stroke-width="3.48" opacity="0.25"/><path d="M1262.9 369.3Q1279.9 407.8 1280.7 449.8" stroke="#3f87c6" stroke-width="3.49" opacity="0.26"/><path d="M1213.1 594.8Q1215.5 477.1 1262.9 369.3" stroke="#e2c820" stroke-width="3.49" opacity="0.26"/><path d="M989.3 594.8Q1120.5 493.2 1280.7 449.8" stroke="#202c78" stroke-width="3.51" opacity="0.26"/><path d="M939.5 530.3Q974.2 387.4 1061.3 269.0" stroke="#58b4ec" stroke-width="3.53" opacity="0.26"/><path d="M939.5 369.3Q1030.3 299.0 1141.1 269.0" stroke="#c0a0dc" stroke-width="3.54" opacity="0.26"/><path d="M989.3 594.8Q1119.6 535.2 1262.9 530.3" stroke="#202c78" stroke-width="3.54" opacity="0.26"/><path d="M1213.1 594.8Q1144.5 439.1 1141.1 269.0" stroke="#e2c820" stroke-width="3.55" opacity="0.26"/><path d="M1213.1 594.8Q1231.6 557.6 1262.9 530.3" stroke="#e2c820" stroke-width="3.57" opacity="0.26"/><path d="M921.7 449.8Q1009.6 526.3 1061.3 630.6" stroke="#a8561f" stroke-width="3.58" opacity="0.26"/><path d="M939.5 369.3Q1026.5 487.8 1061.3 630.6" stroke="#c0a0dc" stroke-width="3.62" opacity="0.26"/><path d="M1141.1 630.6Q1144.5 460.5 1213.1 304.8" stroke="#aee68a" stroke-width="3.65" opacity="0.26"/><path d="M1213.1 304.8Q1242.1 449.8 1213.1 594.8" stroke="#4fc24a" stroke-width="3.65" opacity="0.26"/><path d="M939.5 369.3Q986.9 477.1 989.3 594.8" stroke="#c0a0dc" stroke-width="3.65" opacity="0.26"/><path d="M1262.9 530.3Q1172.1 600.6 1061.3 630.6" stroke="#f2959d" stroke-width="3.65" opacity="0.26"/><path d="M1213.1 304.8Q1133.6 302.0 1061.3 269.0" stroke="#4fc24a" stroke-width="3.65" opacity="0.26"/><path d="M1061.3 630.6Q1025.1 449.8 1061.3 269.0" stroke="#35ae78" stroke-width="3.66" opacity="0.26"/><path d="M989.3 594.8Q941.0 529.1 921.7 449.8" stroke="#202c78" stroke-width="3.66" opacity="0.26"/><path d="M921.7 449.8Q1081.9 493.2 1213.1 594.8" stroke="#a8561f" stroke-width="3.67" opacity="0.26"/><path d="M939.5 530.3Q970.8 557.6 989.3 594.8" stroke="#58b4ec" stroke-width="3.68" opacity="0.26"/><path d="M989.3 594.8Q992.7 424.7 1061.3 269.0" stroke="#202c78" stroke-width="3.68" opacity="0.26"/><path d="M939.5 530.3Q1085.1 417.5 1262.9 369.3" stroke="#58b4ec" stroke-width="3.69" opacity="0.26"/><path d="M921.7 449.8Q938.6 488.3 939.5 530.3" stroke="#a8561f" stroke-width="3.70" opacity="0.27"/><path d="M939.5 369.3Q938.6 411.3 921.7 449.8" stroke="#c0a0dc" stroke-width="3.72" opacity="0.27"/><path d="M1262.9 530.3Q1263.8 488.3 1280.7 449.8" stroke="#f2959d" stroke-width="3.72" opacity="0.27"/><path d="M921.7 449.8Q1084.3 375.4 1262.9 369.3" stroke="#a8561f" stroke-width="3.72" opacity="0.27"/><path d="M989.3 594.8Q960.3 449.8 989.3 304.8" stroke="#202c78" stroke-width="3.74" opacity="0.27"/><path d="M1262.9 530.3Q1132.6 589.9 989.3 594.8" stroke="#f2959d" stroke-width="3.75" opacity="0.27"/><path d="M1213.1 594.8Q1101.2 617.2 989.3 594.8" stroke="#e2c820" stroke-width="3.78" opacity="0.27"/><path d="M1061.3 269.0Q1026.5 411.8 939.5 530.3" stroke="#f09a16" stroke-width="3.81" opacity="0.27"/><path d="M939.5 369.3Q1118.1 375.4 1280.7 449.8" stroke="#c0a0dc" stroke-width="3.83" opacity="0.27"/><path d="M989.3 594.8Q1101.2 572.4 1213.1 594.8" stroke="#202c78" stroke-width="3.86" opacity="0.27"/><path d="M989.3 594.8Q941.8 487.1 939.5 369.3" stroke="#202c78" stroke-width="3.86" opacity="0.27"/><path d="M1061.3 630.6Q1101.2 622.7 1141.1 630.6" stroke="#35ae78" stroke-width="3.89" opacity="0.28"/><path d="M1213.1 304.8Q1101.2 327.2 989.3 304.8" stroke="#4fc24a" stroke-width="3.89" opacity="0.28"/><path d="M1213.1 304.8Q1244.5 332.1 1262.9 369.3" stroke="#4fc24a" stroke-width="3.91" opacity="0.28"/><path d="M1141.1 630.6Q1101.2 638.6 1061.3 630.6" stroke="#aee68a" stroke-width="3.93" opacity="0.28"/><path d="M1262.9 530.3Q1085.1 482.1 939.5 369.3" stroke="#f2959d" stroke-width="3.94" opacity="0.28"/><path d="M939.5 369.3Q955.6 449.8 939.5 530.3" stroke="#c0a0dc" stroke-width="3.95" opacity="0.28"/><path d="M1141.1 269.0Q1229.0 345.4 1280.7 449.8" stroke="#8f44b8" stroke-width="3.96" opacity="0.28"/><path d="M1262.9 369.3Q1279.0 449.8 1262.9 530.3" stroke="#3f87c6" stroke-width="4.09" opacity="0.29"/><path d="M1213.1 594.8Q1140.8 627.9 1061.3 630.6" stroke="#e2c820" stroke-width="4.10" opacity="0.29"/><path d="M1213.1 304.8Q1173.5 294.1 1141.1 269.0" stroke="#4fc24a" stroke-width="4.12" opacity="0.29"/><path d="M1262.9 369.3Q1228.2 512.2 1141.1 630.6" stroke="#3f87c6" stroke-width="4.16" opacity="0.29"/><path d="M1213.1 304.8Q1261.4 370.5 1280.7 449.8" stroke="#4fc24a" stroke-width="4.18" opacity="0.29"/><path d="M1262.9 369.3Q1117.3 482.1 939.5 530.3" stroke="#3f87c6" stroke-width="4.18" opacity="0.29"/><path d="M989.3 594.8Q1028.9 605.5 1061.3 630.6" stroke="#202c78" stroke-width="4.19" opacity="0.29"/><path d="M989.3 594.8Q1103.6 454.7 1262.9 369.3" stroke="#202c78" stroke-width="4.20" opacity="0.29"/><path d="M921.7 449.8Q1101.2 413.9 1280.7 449.8" stroke="#a8561f" stroke-width="4.20" opacity="0.29"/><path d="M1213.1 304.8Q1209.7 474.9 1141.1 630.6" stroke="#4fc24a" stroke-width="4.24" opacity="0.29"/><path d="M1262.9 369.3Q1101.2 401.7 939.5 369.3" stroke="#3f87c6" stroke-width="4.26" opacity="0.29"/><path d="M921.7 449.8Q922.5 407.8 939.5 369.3" stroke="#a8561f" stroke-width="4.34" opacity="0.30"/><path d="M1213.1 304.8Q1130.2 472.2 989.3 594.8" stroke="#4fc24a" stroke-width="4.35" opacity="0.30"/><path d="M1061.3 630.6Q1152.1 560.3 1262.9 530.3" stroke="#35ae78" stroke-width="4.49" opacity="0.31"/><path d="M1061.3 630.6Q1152.9 518.3 1280.7 449.8" stroke="#35ae78" stroke-width="4.50" opacity="0.31"/><path d="M1061.3 630.6Q990.3 592.6 939.5 530.3" stroke="#35ae78" stroke-width="4.55" opacity="0.31"/><path d="M1061.3 630.6Q1104.6 452.5 1213.1 304.8" stroke="#35ae78" stroke-width="4.60" opacity="0.31"/><path d="M1061.3 630.6Q1065.0 441.8 1141.1 269.0" stroke="#35ae78" stroke-width="4.61" opacity="0.31"/><path d="M1262.9 369.3Q1260.6 487.1 1213.1 594.8" stroke="#3f87c6" stroke-width="4.67" opacity="0.31"/><path d="M1061.3 269.0Q1057.9 439.1 989.3 594.8" stroke="#f09a16" stroke-width="4.75" opacity="0.32"/><path d="M1061.3 630.6Q992.7 474.9 989.3 304.8" stroke="#35ae78" stroke-width="4.76" opacity="0.32"/><path d="M1262.9 369.3Q1148.7 509.4 989.3 594.8" stroke="#3f87c6" stroke-width="4.80" opacity="0.32"/><path d="M939.5 369.3Q1101.2 337.0 1262.9 369.3" stroke="#c0a0dc" stroke-width="4.81" opacity="0.32"/><path d="M1061.3 630.6Q974.2 512.2 939.5 369.3" stroke="#35ae78" stroke-width="5.00" opacity="0.33"/><path d="M1061.3 630.6Q973.4 554.2 921.7 449.8" stroke="#35ae78" stroke-width="5.07" opacity="0.33"/><path d="M1061.3 269.0Q1172.1 299.0 1262.9 369.3" stroke="#f09a16" stroke-width="5.37" opacity="0.35"/><path d="M1213.1 304.8Q1169.8 482.9 1061.3 630.6" stroke="#4fc24a" stroke-width="5.41" opacity="0.35"/><path d="M1262.9 369.3Q1188.2 520.1 1061.3 630.6" stroke="#3f87c6" stroke-width="5.47" opacity="0.35"/><path d="M1061.3 630.6Q1136.0 479.8 1262.9 369.3" stroke="#35ae78" stroke-width="5.49" opacity="0.36"/></g>
<g fill="none"><path d="M1280.7 449.8C1351.7 401.2 1351.7 498.4 1280.7 449.8" stroke="#e8262a" stroke-width="1.0" opacity="0.34"/><path d="M1262.9 530.3C1348.1 518.4 1304.8 605.4 1262.9 530.3" stroke="#f2959d" stroke-width="2.5" opacity="0.34"/><path d="M1213.1 594.8C1294.9 621.4 1218.0 680.7 1213.1 594.8" stroke="#e2c820" stroke-width="1.5" opacity="0.34"/><path d="M1141.1 630.6C1203.9 689.5 1109.0 710.4 1141.1 630.6" stroke="#aee68a" stroke-width="1.5" opacity="0.34"/><path d="M1061.3 630.6C1093.4 710.4 998.5 689.5 1061.3 630.6" stroke="#35ae78" stroke-width="6.0" opacity="0.34"/><path d="M989.3 594.8C984.4 680.7 907.5 621.4 989.3 594.8" stroke="#8a8cc0" stroke-width="2.0" opacity="0.34"/><path d="M939.5 530.3C897.6 605.4 854.3 518.4 939.5 530.3" stroke="#58b4ec" stroke-width="1.5" opacity="0.34"/><path d="M921.7 449.8C850.7 498.4 850.7 401.2 921.7 449.8" stroke="#a8561f" stroke-width="1.5" opacity="0.34"/><path d="M939.5 369.3C854.3 381.2 897.6 294.2 939.5 369.3" stroke="#c0a0dc" stroke-width="5.0" opacity="0.34"/><path d="M989.3 304.8C907.5 278.2 984.4 218.9 989.3 304.8" stroke="#f27fd0" stroke-width="1.5" opacity="0.34"/><path d="M1061.3 269.0C998.5 210.1 1093.4 189.2 1061.3 269.0" stroke="#f09a16" stroke-width="2.5" opacity="0.34"/><path d="M1141.1 269.0C1109.0 189.2 1203.9 210.1 1141.1 269.0" stroke="#8f44b8" stroke-width="1.5" opacity="0.34"/><path d="M1213.1 304.8C1218.0 218.9 1294.9 278.2 1213.1 304.8" stroke="#4fc24a" stroke-width="5.5" opacity="0.34"/><path d="M1262.9 369.3C1304.8 294.2 1348.1 381.2 1262.9 369.3" stroke="#3f87c6" stroke-width="6.0" opacity="0.34"/></g>
<circle cx="1280.7" cy="449.8" r="4.7" fill="#e8262a"/>
<circle cx="1262.9" cy="530.3" r="11.6" fill="#f2959d"/>
<circle cx="1213.1" cy="594.8" r="9.3" fill="#e2c820"/>
<circle cx="1141.1" cy="630.6" r="5" fill="#aee68a"/>
<circle cx="1061.3" cy="630.6" r="11.8" fill="#35ae78"/>
<circle cx="989.3" cy="594.8" r="17.6" fill="#202c78"/>
<circle cx="939.5" cy="530.3" r="6.7" fill="#58b4ec"/>
<circle cx="921.7" cy="449.8" r="6.2" fill="#a8561f"/>
<circle cx="939.5" cy="369.3" r="5.2" fill="#c0a0dc"/>
<circle cx="989.3" cy="304.8" r="4.4" fill="#f27fd0"/>
<circle cx="1061.3" cy="269.0" r="5.4" fill="#f09a16"/>
<circle cx="1141.1" cy="269.0" r="4.8" fill="#8f44b8"/>
<circle cx="1213.1" cy="304.8" r="4.6" fill="#4fc24a"/>
<circle cx="1262.9" cy="369.3" r="5.6" fill="#3f87c6"/>
<text x="1297.1" y="464.4" font-size="30">C15_Mey.</text>
<text x="1286.0" y="562.4" font-size="30">Tumor</text>
<text x="1204.5" y="635.0" font-size="30">SPON2<tspan font-size="20" dy="-11">+</tspan><tspan dy="11">NK</tspan></text>
<text x="1117.1" y="686.3" font-size="30">SPON2<tspan font-size="20" dy="-11">−</tspan><tspan dy="11">NK</tspan></text>
<text x="1002.6" y="698.2" font-size="30">Myeloid</text>
<text x="914.9" y="656.6" font-size="30">CD8T</text>
<text x="860.3" y="562.0" font-size="30">CD4T</text>
<text x="796.0" y="465.6" font-size="30">C6_Bcell</text>
<text x="804.2" y="365.5" font-size="30">C23_HSC</text>
<text x="848.2" y="281.9" font-size="30">C22_Plasma</text>
<text x="967.3" y="232.0" font-size="30">C21_pDC</text>
<text x="1107.5" y="232.0" font-size="30">C19_Tcell</text>
<text x="1195.1" y="281.1" font-size="30">C18_Epi.</text>
<text x="1281.5" y="359.7" font-size="30">C17_Endo.</text>
<g fill="none" stroke-linecap="round"><path d="M1924.7 522.1Q1765.7 437.6 1651.4 298.4" stroke="#f2959d" stroke-width="2.25" opacity="0.17"/><path d="M1651.4 298.4Q1759.6 444.9 1803.1 621.7" stroke="#f27fd0" stroke-width="2.25" opacity="0.17"/><path d="M1924.7 522.1Q1873.9 584.1 1803.1 621.7" stroke="#f2959d" stroke-width="2.25" opacity="0.17"/><path d="M1803.1 262.9Q1763.2 270.9 1723.3 262.9" stroke="#8f44b8" stroke-width="2.25" opacity="0.18"/><path d="M1803.1 621.7Q1806.7 452.9 1875.0 298.4" stroke="#aee68a" stroke-width="2.25" opacity="0.18"/><path d="M1803.1 262.9Q1842.6 273.5 1875.0 298.4" stroke="#8f44b8" stroke-width="2.25" opacity="0.18"/><path d="M1924.7 522.1Q1838.0 404.7 1803.1 262.9" stroke="#f2959d" stroke-width="2.25" opacity="0.18"/><path d="M1803.1 262.9Q1730.8 295.8 1651.4 298.4" stroke="#8f44b8" stroke-width="2.25" opacity="0.18"/><path d="M1651.4 298.4Q1792.0 419.9 1875.0 586.2" stroke="#f27fd0" stroke-width="2.25" opacity="0.18"/><path d="M1803.1 262.9Q1871.4 417.3 1875.0 586.2" stroke="#8f44b8" stroke-width="2.25" opacity="0.18"/><path d="M1942.5 442.3Q1854.9 366.5 1803.1 262.9" stroke="#e8262a" stroke-width="2.25" opacity="0.18"/><path d="M1601.7 522.1Q1676.5 372.4 1803.1 262.9" stroke="#58b4ec" stroke-width="2.25" opacity="0.18"/><path d="M1875.0 298.4Q1903.8 442.3 1875.0 586.2" stroke="#4fc24a" stroke-width="2.25" opacity="0.18"/><path d="M1803.1 621.7Q1723.7 619.1 1651.4 586.2" stroke="#aee68a" stroke-width="2.25" opacity="0.18"/><path d="M1803.1 621.7Q1835.5 596.7 1875.0 586.2" stroke="#aee68a" stroke-width="2.27" opacity="0.18"/><path d="M1651.4 298.4Q1763.2 276.1 1875.0 298.4" stroke="#f27fd0" stroke-width="2.27" opacity="0.18"/><path d="M1803.1 621.7Q1854.0 559.7 1924.7 522.1" stroke="#aee68a" stroke-width="2.28" opacity="0.18"/><path d="M1924.7 522.1Q1877.5 415.3 1875.0 298.4" stroke="#f2959d" stroke-width="2.29" opacity="0.18"/><path d="M1651.4 586.2Q1781.7 526.8 1924.7 522.1" stroke="#202c78" stroke-width="2.29" opacity="0.18"/><path d="M1583.9 442.3Q1632.0 507.5 1651.4 586.2" stroke="#a8561f" stroke-width="2.29" opacity="0.18"/><path d="M1651.4 586.2Q1763.2 563.8 1875.0 586.2" stroke="#202c78" stroke-width="2.30" opacity="0.18"/><path d="M1601.7 522.1Q1763.2 489.8 1924.7 522.1" stroke="#58b4ec" stroke-width="2.30" opacity="0.18"/><path d="M1723.3 262.9Q1802.7 265.5 1875.0 298.4" stroke="#f09a16" stroke-width="2.31" opacity="0.19"/><path d="M1803.1 262.9Q1839.0 442.3 1803.1 621.7" stroke="#8f44b8" stroke-width="2.31" opacity="0.19"/><path d="M1651.4 298.4Q1723.7 265.5 1803.1 262.9" stroke="#f27fd0" stroke-width="2.32" opacity="0.19"/><path d="M1583.9 442.3Q1711.4 510.1 1803.1 621.7" stroke="#a8561f" stroke-width="2.32" opacity="0.19"/><path d="M1803.1 621.7Q1694.9 475.2 1651.4 298.4" stroke="#aee68a" stroke-width="2.33" opacity="0.19"/><path d="M1942.5 442.3Q1763.2 478.2 1583.9 442.3" stroke="#e8262a" stroke-width="2.34" opacity="0.19"/><path d="M1723.3 262.9Q1672.4 324.9 1601.7 362.5" stroke="#f09a16" stroke-width="2.34" opacity="0.19"/><path d="M1601.7 362.5Q1728.3 471.9 1803.1 621.7" stroke="#c0a0dc" stroke-width="2.34" opacity="0.19"/><path d="M1651.4 298.4Q1632.0 377.1 1583.9 442.3" stroke="#f27fd0" stroke-width="2.35" opacity="0.19"/><path d="M1924.7 522.1Q1747.2 474.6 1601.7 362.5" stroke="#f2959d" stroke-width="2.35" opacity="0.19"/><path d="M1651.4 298.4Q1810.4 383.0 1924.7 522.1" stroke="#f27fd0" stroke-width="2.36" opacity="0.19"/><path d="M1875.0 586.2Q1894.4 507.5 1942.5 442.3" stroke="#e2c820" stroke-width="2.36" opacity="0.19"/><path d="M1601.7 522.1Q1584.8 484.0 1583.9 442.3" stroke="#58b4ec" stroke-width="2.37" opacity="0.19"/><path d="M1723.3 262.9Q1849.9 372.4 1924.7 522.1" stroke="#f09a16" stroke-width="2.37" opacity="0.19"/><path d="M1942.5 442.3Q1925.6 404.2 1924.7 362.5" stroke="#e8262a" stroke-width="2.38" opacity="0.19"/><path d="M1651.4 298.4Q1680.2 442.3 1651.4 586.2" stroke="#f27fd0" stroke-width="2.38" opacity="0.19"/><path d="M1651.4 586.2Q1655.0 417.3 1723.3 262.9" stroke="#202c78" stroke-width="2.38" opacity="0.19"/><path d="M1583.9 442.3Q1671.5 518.1 1723.3 621.7" stroke="#a8561f" stroke-width="2.40" opacity="0.19"/><path d="M1723.3 262.9Q1690.9 287.9 1651.4 298.4" stroke="#f09a16" stroke-width="2.41" opacity="0.19"/><path d="M1583.9 442.3Q1743.8 485.1 1875.0 586.2" stroke="#a8561f" stroke-width="2.42" opacity="0.19"/><path d="M1723.3 621.7Q1655.0 467.3 1651.4 298.4" stroke="#35ae78" stroke-width="2.43" opacity="0.19"/><path d="M1651.4 586.2Q1734.4 419.9 1875.0 298.4" stroke="#202c78" stroke-width="2.43" opacity="0.19"/><path d="M1875.0 298.4Q1744.7 357.8 1601.7 362.5" stroke="#4fc24a" stroke-width="2.43" opacity="0.19"/><path d="M1875.0 586.2Q1766.8 439.7 1723.3 262.9" stroke="#e2c820" stroke-width="2.44" opacity="0.19"/><path d="M1601.7 362.5Q1760.7 447.0 1875.0 586.2" stroke="#c0a0dc" stroke-width="2.45" opacity="0.19"/><path d="M1942.5 442.3Q1941.6 484.0 1924.7 522.1" stroke="#e8262a" stroke-width="2.45" opacity="0.19"/><path d="M1803.1 621.7Q1838.0 479.9 1924.7 362.5" stroke="#aee68a" stroke-width="2.45" opacity="0.19"/><path d="M1583.9 442.3Q1635.7 338.7 1723.3 262.9" stroke="#a8561f" stroke-width="2.46" opacity="0.19"/><path d="M1942.5 442.3Q1894.4 377.1 1875.0 298.4" stroke="#e8262a" stroke-width="2.46" opacity="0.19"/><path d="M1803.1 262.9Q1889.8 380.4 1924.7 522.1" stroke="#8f44b8" stroke-width="2.46" opacity="0.19"/><path d="M1601.7 362.5Q1692.4 292.5 1803.1 262.9" stroke="#c0a0dc" stroke-width="2.46" opacity="0.19"/><path d="M1723.3 262.9Q1850.8 330.7 1942.5 442.3" stroke="#f09a16" stroke-width="2.47" opacity="0.19"/><path d="M1803.1 621.7Q1675.6 553.9 1583.9 442.3" stroke="#aee68a" stroke-width="2.48" opacity="0.19"/><path d="M1723.3 262.9Q1671.5 366.5 1583.9 442.3" stroke="#f09a16" stroke-width="2.49" opacity="0.19"/><path d="M1924.7 522.1Q1908.8 442.3 1924.7 362.5" stroke="#f2959d" stroke-width="2.49" opacity="0.19"/><path d="M1875.0 586.2Q1842.6 611.1 1803.1 621.7" stroke="#e2c820" stroke-width="2.51" opacity="0.20"/><path d="M1924.7 522.1Q1798.1 412.7 1723.3 262.9" stroke="#f2959d" stroke-width="2.51" opacity="0.20"/><path d="M1583.9 442.3Q1584.8 400.6 1601.7 362.5" stroke="#a8561f" stroke-width="2.52" opacity="0.20"/><path d="M1875.0 586.2Q1734.4 464.7 1651.4 298.4" stroke="#e2c820" stroke-width="2.53" opacity="0.20"/><path d="M1601.7 362.5Q1617.6 442.3 1601.7 522.1" stroke="#c0a0dc" stroke-width="2.53" opacity="0.20"/><path d="M1601.7 362.5Q1600.8 404.2 1583.9 442.3" stroke="#c0a0dc" stroke-width="2.53" opacity="0.20"/><path d="M1583.9 442.3Q1675.6 330.7 1803.1 262.9" stroke="#a8561f" stroke-width="2.53" opacity="0.20"/><path d="M1875.0 586.2Q1893.5 549.2 1924.7 522.1" stroke="#e2c820" stroke-width="2.53" opacity="0.20"/><path d="M1601.7 522.1Q1764.1 448.1 1942.5 442.3" stroke="#58b4ec" stroke-width="2.54" opacity="0.20"/><path d="M1601.7 522.1Q1747.2 410.0 1924.7 362.5" stroke="#58b4ec" stroke-width="2.54" opacity="0.20"/><path d="M1875.0 298.4Q1760.7 437.6 1601.7 522.1" stroke="#4fc24a" stroke-width="2.54" opacity="0.20"/><path d="M1651.4 298.4Q1683.8 273.5 1723.3 262.9" stroke="#f27fd0" stroke-width="2.57" opacity="0.20"/><path d="M1583.9 442.3Q1603.3 363.6 1651.4 298.4" stroke="#a8561f" stroke-width="2.57" opacity="0.20"/><path d="M1942.5 442.3Q1782.6 399.5 1651.4 298.4" stroke="#e8262a" stroke-width="2.59" opacity="0.20"/><path d="M1583.9 442.3Q1763.2 406.4 1942.5 442.3" stroke="#a8561f" stroke-width="2.60" opacity="0.20"/><path d="M1803.1 621.7Q1763.2 629.7 1723.3 621.7" stroke="#aee68a" stroke-width="2.61" opacity="0.20"/><path d="M1924.7 522.1Q1763.2 554.4 1601.7 522.1" stroke="#f2959d" stroke-width="2.61" opacity="0.20"/><path d="M1803.1 262.9Q1728.3 412.7 1601.7 522.1" stroke="#8f44b8" stroke-width="2.62" opacity="0.20"/><path d="M1942.5 442.3Q1923.1 521.0 1875.0 586.2" stroke="#e8262a" stroke-width="2.63" opacity="0.20"/><path d="M1723.3 621.7Q1683.8 611.1 1651.4 586.2" stroke="#35ae78" stroke-width="2.64" opacity="0.20"/><path d="M1803.1 262.9Q1890.7 338.7 1942.5 442.3" stroke="#8f44b8" stroke-width="2.64" opacity="0.20"/><path d="M1924.7 522.1Q1906.3 559.1 1875.0 586.2" stroke="#f2959d" stroke-width="2.65" opacity="0.20"/><path d="M1723.3 262.9Q1834.0 292.5 1924.7 362.5" stroke="#f09a16" stroke-width="2.65" opacity="0.20"/><path d="M1583.9 442.3Q1600.8 480.4 1601.7 522.1" stroke="#a8561f" stroke-width="2.65" opacity="0.20"/><path d="M1942.5 442.3Q1780.1 516.3 1601.7 522.1" stroke="#e8262a" stroke-width="2.65" opacity="0.20"/><path d="M1651.4 298.4Q1648.9 415.3 1601.7 522.1" stroke="#f27fd0" stroke-width="2.65" opacity="0.20"/><path d="M1723.3 262.9Q1719.7 431.7 1651.4 586.2" stroke="#f09a16" stroke-width="2.66" opacity="0.20"/><path d="M1924.7 522.1Q1746.3 516.3 1583.9 442.3" stroke="#f2959d" stroke-width="2.67" opacity="0.20"/><path d="M1651.4 586.2Q1604.2 479.3 1601.7 362.5" stroke="#202c78" stroke-width="2.68" opacity="0.20"/><path d="M1924.7 362.5Q1889.8 504.2 1803.1 621.7" stroke="#3f87c6" stroke-width="2.68" opacity="0.20"/><path d="M1723.3 262.9Q1763.2 254.9 1803.1 262.9" stroke="#f09a16" stroke-width="2.69" opacity="0.20"/><path d="M1875.0 298.4Q1763.2 320.8 1651.4 298.4" stroke="#4fc24a" stroke-width="2.69" opacity="0.20"/><path d="M1601.7 522.1Q1636.6 380.4 1723.3 262.9" stroke="#58b4ec" stroke-width="2.70" opacity="0.20"/><path d="M1803.1 621.7Q1692.4 592.1 1601.7 522.1" stroke="#aee68a" stroke-width="2.70" opacity="0.21"/><path d="M1601.7 522.1Q1585.7 442.3 1601.7 362.5" stroke="#58b4ec" stroke-width="2.70" opacity="0.21"/><path d="M1583.9 442.3Q1762.3 448.1 1924.7 522.1" stroke="#a8561f" stroke-width="2.71" opacity="0.21"/><path d="M1601.7 522.1Q1672.4 559.7 1723.3 621.7" stroke="#58b4ec" stroke-width="2.73" opacity="0.21"/><path d="M1601.7 522.1Q1712.3 551.8 1803.1 621.7" stroke="#58b4ec" stroke-width="2.73" opacity="0.21"/><path d="M1803.1 262.9Q1711.4 374.5 1583.9 442.3" stroke="#8f44b8" stroke-width="2.74" opacity="0.21"/><path d="M1942.5 442.3Q1811.3 543.3 1651.4 586.2" stroke="#e8262a" stroke-width="2.76" opacity="0.21"/><path d="M1875.0 586.2Q1715.1 543.3 1583.9 442.3" stroke="#e2c820" stroke-width="2.76" opacity="0.21"/><path d="M1803.1 621.7Q1767.2 442.3 1803.1 262.9" stroke="#aee68a" stroke-width="2.77" opacity="0.21"/><path d="M1601.7 522.1Q1604.2 405.3 1651.4 298.4" stroke="#58b4ec" stroke-width="2.78" opacity="0.21"/><path d="M1875.0 298.4Q1871.4 467.3 1803.1 621.7" stroke="#4fc24a" stroke-width="2.78" opacity="0.21"/><path d="M1651.4 586.2Q1690.9 596.7 1723.3 621.7" stroke="#202c78" stroke-width="2.80" opacity="0.21"/><path d="M1875.0 586.2Q1731.9 581.5 1601.7 522.1" stroke="#e2c820" stroke-width="2.80" opacity="0.21"/><path d="M1803.1 262.9Q1712.3 332.8 1601.7 362.5" stroke="#8f44b8" stroke-width="2.81" opacity="0.21"/><path d="M1942.5 442.3Q1890.7 545.9 1803.1 621.7" stroke="#e8262a" stroke-width="2.83" opacity="0.21"/><path d="M1651.4 586.2Q1782.6 485.1 1942.5 442.3" stroke="#202c78" stroke-width="2.85" opacity="0.21"/><path d="M1942.5 442.3Q1764.1 436.5 1601.7 362.5" stroke="#e8262a" stroke-width="2.85" opacity="0.21"/><path d="M1803.1 621.7Q1727.3 450.3 1723.3 262.9" stroke="#aee68a" stroke-width="2.86" opacity="0.21"/><path d="M1875.0 586.2Q1763.2 608.5 1651.4 586.2" stroke="#e2c820" stroke-width="2.88" opacity="0.21"/><path d="M1723.3 621.7Q1763.2 613.7 1803.1 621.7" stroke="#35ae78" stroke-width="2.88" opacity="0.21"/><path d="M1651.4 586.2Q1603.3 521.0 1583.9 442.3" stroke="#202c78" stroke-width="2.88" opacity="0.21"/><path d="M1723.3 621.7Q1798.1 471.9 1924.7 362.5" stroke="#35ae78" stroke-width="2.90" opacity="0.21"/><path d="M1583.9 442.3Q1746.3 368.3 1924.7 362.5" stroke="#a8561f" stroke-width="2.90" opacity="0.21"/><path d="M1651.4 586.2Q1620.1 559.1 1601.7 522.1" stroke="#202c78" stroke-width="2.90" opacity="0.21"/><path d="M1723.3 621.7Q1687.4 442.3 1723.3 262.9" stroke="#35ae78" stroke-width="2.91" opacity="0.22"/><path d="M1924.7 362.5Q1893.5 335.4 1875.0 298.4" stroke="#3f87c6" stroke-width="2.95" opacity="0.22"/><path d="M1942.5 442.3Q1850.8 553.9 1723.3 621.7" stroke="#e8262a" stroke-width="2.96" opacity="0.22"/><path d="M1651.4 586.2Q1622.6 442.3 1651.4 298.4" stroke="#202c78" stroke-width="2.97" opacity="0.22"/><path d="M1601.7 362.5Q1620.1 325.5 1651.4 298.4" stroke="#c0a0dc" stroke-width="2.98" opacity="0.22"/><path d="M1723.3 621.7Q1814.1 551.8 1924.7 522.1" stroke="#35ae78" stroke-width="2.98" opacity="0.22"/><path d="M1723.3 262.9Q1799.1 434.3 1803.1 621.7" stroke="#f09a16" stroke-width="2.99" opacity="0.22"/><path d="M1601.7 522.1Q1744.7 526.8 1875.0 586.2" stroke="#58b4ec" stroke-width="3.00" opacity="0.22"/><path d="M1651.4 586.2Q1694.9 409.4 1803.1 262.9" stroke="#202c78" stroke-width="3.01" opacity="0.22"/><path d="M1924.7 362.5Q1762.3 436.5 1583.9 442.3" stroke="#3f87c6" stroke-width="3.01" opacity="0.22"/><path d="M1875.0 298.4Q1795.6 295.8 1723.3 262.9" stroke="#4fc24a" stroke-width="3.01" opacity="0.22"/><path d="M1803.1 621.7Q1854.9 518.1 1942.5 442.3" stroke="#aee68a" stroke-width="3.04" opacity="0.22"/><path d="M1651.4 586.2Q1730.8 588.8 1803.1 621.7" stroke="#202c78" stroke-width="3.04" opacity="0.22"/><path d="M1651.4 298.4Q1794.5 303.1 1924.7 362.5" stroke="#f27fd0" stroke-width="3.05" opacity="0.22"/><path d="M1651.4 298.4Q1632.9 335.4 1601.7 362.5" stroke="#f27fd0" stroke-width="3.07" opacity="0.22"/><path d="M1803.1 621.7Q1676.5 512.2 1601.7 362.5" stroke="#aee68a" stroke-width="3.09" opacity="0.22"/><path d="M1875.0 298.4Q1922.2 405.3 1924.7 522.1" stroke="#4fc24a" stroke-width="3.10" opacity="0.22"/><path d="M1924.7 522.1Q1794.5 581.5 1651.4 586.2" stroke="#f2959d" stroke-width="3.10" opacity="0.22"/><path d="M1924.7 362.5Q1814.1 332.8 1723.3 262.9" stroke="#3f87c6" stroke-width="3.11" opacity="0.23"/><path d="M1601.7 362.5Q1779.2 410.0 1924.7 522.1" stroke="#c0a0dc" stroke-width="3.11" opacity="0.23"/><path d="M1803.1 262.9Q1759.6 439.7 1651.4 586.2" stroke="#8f44b8" stroke-width="3.12" opacity="0.23"/><path d="M1583.9 442.3Q1715.1 341.3 1875.0 298.4" stroke="#a8561f" stroke-width="3.13" opacity="0.23"/><path d="M1723.3 621.7Q1636.6 504.2 1601.7 362.5" stroke="#35ae78" stroke-width="3.14" opacity="0.23"/><path d="M1651.4 586.2Q1765.7 447.0 1924.7 362.5" stroke="#202c78" stroke-width="3.15" opacity="0.23"/><path d="M1601.7 522.1Q1716.0 383.0 1875.0 298.4" stroke="#58b4ec" stroke-width="3.16" opacity="0.23"/><path d="M1924.7 522.1Q1925.6 480.4 1942.5 442.3" stroke="#f2959d" stroke-width="3.16" opacity="0.23"/><path d="M1875.0 586.2Q1806.7 431.7 1803.1 262.9" stroke="#e2c820" stroke-width="3.16" opacity="0.23"/><path d="M1875.0 586.2Q1716.0 501.6 1601.7 362.5" stroke="#e2c820" stroke-width="3.17" opacity="0.23"/><path d="M1601.7 522.1Q1632.9 549.2 1651.4 586.2" stroke="#58b4ec" stroke-width="3.18" opacity="0.23"/><path d="M1924.7 362.5Q1854.0 324.9 1803.1 262.9" stroke="#3f87c6" stroke-width="3.18" opacity="0.23"/><path d="M1875.0 298.4Q1835.5 287.9 1803.1 262.9" stroke="#4fc24a" stroke-width="3.19" opacity="0.23"/><path d="M1723.3 262.9Q1688.4 404.7 1601.7 522.1" stroke="#f09a16" stroke-width="3.21" opacity="0.23"/><path d="M1924.7 362.5Q1940.7 442.3 1924.7 522.1" stroke="#3f87c6" stroke-width="3.24" opacity="0.23"/><path d="M1875.0 298.4Q1831.5 475.2 1723.3 621.7" stroke="#4fc24a" stroke-width="3.24" opacity="0.23"/><path d="M1875.0 298.4Q1792.0 464.7 1651.4 586.2" stroke="#4fc24a" stroke-width="3.27" opacity="0.23"/><path d="M1803.1 262.9Q1873.9 300.5 1924.7 362.5" stroke="#8f44b8" stroke-width="3.27" opacity="0.23"/><path d="M1875.0 586.2Q1846.2 442.3 1875.0 298.4" stroke="#e2c820" stroke-width="3.31" opacity="0.24"/><path d="M1924.7 362.5Q1781.7 357.8 1651.4 298.4" stroke="#3f87c6" stroke-width="3.33" opacity="0.24"/><path d="M1803.1 262.9Q1799.1 450.3 1723.3 621.7" stroke="#8f44b8" stroke-width="3.36" opacity="0.24"/><path d="M1601.7 362.5Q1652.5 300.5 1723.3 262.9" stroke="#c0a0dc" stroke-width="3.37" opacity="0.24"/><path d="M1723.3 621.7Q1652.5 584.1 1601.7 522.1" stroke="#35ae78" stroke-width="3.39" opacity="0.24"/><path d="M1601.7 362.5Q1780.1 368.3 1942.5 442.3" stroke="#c0a0dc" stroke-width="3.42" opacity="0.24"/><path d="M1651.4 298.4Q1719.7 452.9 1723.3 621.7" stroke="#f27fd0" stroke-width="3.45" opacity="0.24"/><path d="M1875.0 298.4Q1743.8 399.5 1583.9 442.3" stroke="#4fc24a" stroke-width="3.47" opacity="0.24"/><path d="M1723.3 262.9Q1759.2 442.3 1723.3 621.7" stroke="#f09a16" stroke-width="3.47" opacity="0.24"/><path d="M1924.7 522.1Q1834.0 592.1 1723.3 621.7" stroke="#f2959d" stroke-width="3.48" opacity="0.24"/><path d="M1875.0 298.4Q1923.1 363.6 1942.5 442.3" stroke="#4fc24a" stroke-width="3.49" opacity="0.24"/><path d="M1924.7 362.5Q1779.2 474.6 1601.7 522.1" stroke="#3f87c6" stroke-width="3.53" opacity="0.25"/><path d="M1601.7 362.5Q1648.9 469.3 1651.4 586.2" stroke="#c0a0dc" stroke-width="3.53" opacity="0.25"/><path d="M1875.0 586.2Q1877.5 469.3 1924.7 362.5" stroke="#e2c820" stroke-width="3.54" opacity="0.25"/><path d="M1875.0 298.4Q1906.3 325.5 1924.7 362.5" stroke="#4fc24a" stroke-width="3.55" opacity="0.25"/><path d="M1601.7 362.5Q1731.9 303.1 1875.0 298.4" stroke="#c0a0dc" stroke-width="3.56" opacity="0.25"/><path d="M1924.7 362.5Q1922.2 479.3 1875.0 586.2" stroke="#3f87c6" stroke-width="3.59" opacity="0.25"/><path d="M1875.0 586.2Q1802.7 619.1 1723.3 621.7" stroke="#e2c820" stroke-width="3.68" opacity="0.25"/><path d="M1723.3 621.7Q1766.8 444.9 1875.0 298.4" stroke="#35ae78" stroke-width="3.79" opacity="0.26"/><path d="M1651.4 298.4Q1811.3 341.3 1942.5 442.3" stroke="#f27fd0" stroke-width="3.81" opacity="0.26"/><path d="M1723.3 262.9Q1831.5 409.4 1875.0 586.2" stroke="#f09a16" stroke-width="3.83" opacity="0.26"/><path d="M1723.3 621.7Q1635.7 545.9 1583.9 442.3" stroke="#35ae78" stroke-width="3.83" opacity="0.26"/><path d="M1723.3 621.7Q1727.3 434.3 1803.1 262.9" stroke="#35ae78" stroke-width="3.93" opacity="0.27"/><path d="M1723.3 621.7Q1795.6 588.8 1875.0 586.2" stroke="#35ae78" stroke-width="3.96" opacity="0.27"/><path d="M1924.7 362.5Q1763.2 394.8 1601.7 362.5" stroke="#3f87c6" stroke-width="3.96" opacity="0.27"/><path d="M1924.7 362.5Q1941.6 400.6 1942.5 442.3" stroke="#3f87c6" stroke-width="3.96" opacity="0.27"/><path d="M1601.7 362.5Q1763.2 330.2 1924.7 362.5" stroke="#c0a0dc" stroke-width="3.96" opacity="0.27"/><path d="M1924.7 362.5Q1810.4 501.6 1651.4 586.2" stroke="#3f87c6" stroke-width="3.97" opacity="0.27"/><path d="M1924.7 362.5Q1849.9 512.2 1723.3 621.7" stroke="#3f87c6" stroke-width="4.08" opacity="0.27"/><path d="M1942.5 442.3Q1815.0 374.5 1723.3 262.9" stroke="#e8262a" stroke-width="4.09" opacity="0.27"/><path d="M1601.7 362.5Q1688.4 479.9 1723.3 621.7" stroke="#c0a0dc" stroke-width="4.18" opacity="0.28"/><path d="M1723.3 621.7Q1815.0 510.1 1942.5 442.3" stroke="#35ae78" stroke-width="4.75" opacity="0.31"/></g>
<g fill="none"><path d="M1942.5 442.3C2013.5 393.7 2013.5 490.9 1942.5 442.3" stroke="#e8262a" stroke-width="1.5" opacity="0.34"/><path d="M1924.7 522.1C2009.9 510.0 1966.9 597.1 1924.7 522.1" stroke="#f2959d" stroke-width="2.0" opacity="0.34"/><path d="M1875.0 586.2C1956.9 612.4 1880.2 672.0 1875.0 586.2" stroke="#e2c820" stroke-width="2.0" opacity="0.34"/><path d="M1803.1 621.7C1865.9 680.4 1771.1 701.5 1803.1 621.7" stroke="#aee68a" stroke-width="2.0" opacity="0.34"/><path d="M1723.3 621.7C1755.3 701.5 1660.5 680.4 1723.3 621.7" stroke="#35ae78" stroke-width="5.0" opacity="0.34"/><path d="M1651.4 586.2C1646.2 672.0 1569.5 612.4 1651.4 586.2" stroke="#8a8cc0" stroke-width="2.5" opacity="0.34"/><path d="M1601.7 522.1C1559.5 597.1 1516.5 510.0 1601.7 522.1" stroke="#58b4ec" stroke-width="2.0" opacity="0.34"/><path d="M1583.9 442.3C1512.9 490.9 1512.9 393.7 1583.9 442.3" stroke="#a8561f" stroke-width="1.5" opacity="0.34"/><path d="M1601.7 362.5C1516.5 374.6 1559.5 287.5 1601.7 362.5" stroke="#c0a0dc" stroke-width="6.0" opacity="0.34"/><path d="M1651.4 298.4C1569.5 272.2 1646.2 212.6 1651.4 298.4" stroke="#f27fd0" stroke-width="1.5" opacity="0.34"/><path d="M1723.3 262.9C1660.5 204.2 1755.3 183.1 1723.3 262.9" stroke="#f09a16" stroke-width="3.0" opacity="0.34"/><path d="M1803.1 262.9C1771.1 183.1 1865.9 204.2 1803.1 262.9" stroke="#8f44b8" stroke-width="1.5" opacity="0.34"/><path d="M1875.0 298.4C1880.2 212.6 1956.9 272.2 1875.0 298.4" stroke="#4fc24a" stroke-width="3.0" opacity="0.34"/><path d="M1924.7 362.5C1966.9 287.5 2009.9 374.6 1924.7 362.5" stroke="#3f87c6" stroke-width="6.0" opacity="0.34"/></g>
<circle cx="1942.5" cy="442.3" r="4.7" fill="#e8262a"/>
<circle cx="1924.7" cy="522.1" r="11.6" fill="#f2959d"/>
<circle cx="1875.0" cy="586.2" r="9.3" fill="#e2c820"/>
<circle cx="1803.1" cy="621.7" r="5" fill="#aee68a"/>
<circle cx="1723.3" cy="621.7" r="11.8" fill="#35ae78"/>
<circle cx="1651.4" cy="586.2" r="17.6" fill="#202c78"/>
<circle cx="1601.7" cy="522.1" r="6.7" fill="#58b4ec"/>
<circle cx="1583.9" cy="442.3" r="6.2" fill="#a8561f"/>
<circle cx="1601.7" cy="362.5" r="5.2" fill="#c0a0dc"/>
<circle cx="1651.4" cy="298.4" r="4.4" fill="#f27fd0"/>
<circle cx="1723.3" cy="262.9" r="5.4" fill="#f09a16"/>
<circle cx="1803.1" cy="262.9" r="4.8" fill="#8f44b8"/>
<circle cx="1875.0" cy="298.4" r="4.6" fill="#4fc24a"/>
<circle cx="1924.7" cy="362.5" r="5.6" fill="#3f87c6"/>
<text x="1955.2" y="464.0" font-size="30">C15_Mey.</text>
<text x="1943.4" y="562.2" font-size="30">Tumor</text>
<text x="1862.8" y="635.3" font-size="30">SPON2<tspan font-size="20" dy="-11">+</tspan><tspan dy="11">NK</tspan></text>
<text x="1776.0" y="686.4" font-size="30">SPON2<tspan font-size="20" dy="-11">−</tspan><tspan dy="11">NK</tspan></text>
<text x="1660.5" y="698.2" font-size="30">Myeloid</text>
<text x="1572.9" y="656.9" font-size="30">CD8T</text>
<text x="1518.7" y="561.4" font-size="30">CD4T</text>
<text x="1454.2" y="466.2" font-size="30">C6_Bcell</text>
<text x="1462.9" y="365.5" font-size="30">C23_HSC</text>
<text x="1506.9" y="281.9" font-size="30">C22_Plasma</text>
<text x="1626.7" y="232.0" font-size="30">C21_pDC</text>
<text x="1776.0" y="232.0" font-size="30">C19_Tcell</text>
<text x="1853.8" y="281.1" font-size="30">C18_Epi.</text>
<text x="1940.2" y="359.7" font-size="30">C17_Endo.</text>
</g>
<g id="panel_c">
<text x="-1.5" y="1088.3" font-size="45" font-weight="bold">c</text>
<text x="1177.0" y="1193.5" font-size="34" text-anchor="middle">Top 50 signaling pathways</text>
<path d="M151.8 1169 V1787 M149.6 1778.2 H2083.3" stroke="#000" stroke-width="4.4" fill="none"/>
<path d="M140 1776.0 H150 M140 1656.2 H150 M140 1536.5 H150 M140 1416.8 H150 M140 1297.0 H150 M140 1177.2 H150" stroke="#000" stroke-width="1.5" fill="none"/>
<path d="M149 1716.1 H154.5 M149 1596.4 H154.5 M149 1476.6 H154.5 M149 1356.9 H154.5 M149 1237.1 H154.5" stroke="#fff" stroke-width="1" fill="none"/>
<text x="141.8" y="1781.5" font-size="24.3" text-anchor="end">0</text>
<text x="141.8" y="1662.3" font-size="24.3" text-anchor="end">5</text>
<text x="130.8" y="1543.2" font-size="24.3" text-anchor="end">10</text>
<text x="130.8" y="1424.0" font-size="24.3" text-anchor="end">15</text>
<text x="130.8" y="1304.9" font-size="24.3" text-anchor="end">20</text>
<text x="130.8" y="1185.8" font-size="24.3" text-anchor="end">25</text>
<text x="87.4" y="1515.0" font-size="33.8" text-anchor="middle" transform="rotate(-90 87.4 1515.0)">SPON2<tspan font-size="21" dy="-10">+</tspan><tspan dy="10">NK Compared with SPON2</tspan><tspan font-size="21" dy="-10">−</tspan><tspan dy="10">NK(Fold Change)</tspan></text>
<g fill="#595959"><rect x="159.0" y="1192.8" width="30.8" height="584.2"/><rect x="197.4" y="1397.6" width="30.8" height="379.4"/><rect x="235.8" y="1613.6" width="30.8" height="163.4"/><rect x="274.2" y="1625.8" width="30.8" height="151.2"/><rect x="312.6" y="1635.9" width="30.8" height="141.1"/><rect x="351.0" y="1660.6" width="30.8" height="116.4"/><rect x="389.5" y="1667.7" width="30.8" height="109.3"/><rect x="427.9" y="1677.8" width="30.8" height="99.2"/><rect x="466.3" y="1702.5" width="30.8" height="74.5"/><rect x="504.7" y="1706.1" width="28.5" height="70.9"/><rect x="543.1" y="1709.7" width="28.5" height="67.3"/><rect x="581.5" y="1712.1" width="28.5" height="64.9"/><rect x="619.9" y="1714.4" width="28.5" height="62.6"/><rect x="658.3" y="1714.4" width="28.5" height="62.6"/><rect x="696.7" y="1716.8" width="28.5" height="60.2"/><rect x="735.1" y="1720.2" width="28.5" height="56.8"/><rect x="773.6" y="1723.3" width="28.5" height="53.7"/><rect x="812.0" y="1724.5" width="28.5" height="52.5"/><rect x="850.4" y="1726.7" width="28.5" height="50.3"/><rect x="888.8" y="1726.7" width="28.5" height="50.3"/><rect x="927.2" y="1729.3" width="28.5" height="47.7"/><rect x="965.6" y="1729.3" width="28.5" height="47.7"/><rect x="1004.0" y="1729.3" width="28.5" height="47.7"/><rect x="1042.4" y="1730.5" width="28.5" height="46.5"/><rect x="1080.8" y="1730.5" width="28.5" height="46.5"/><rect x="1119.2" y="1731.7" width="28.5" height="45.3"/><rect x="1157.7" y="1731.7" width="28.5" height="45.3"/><rect x="1196.1" y="1731.7" width="28.5" height="45.3"/><rect x="1234.5" y="1732.9" width="28.5" height="44.1"/><rect x="1272.9" y="1732.9" width="28.5" height="44.1"/><rect x="1311.3" y="1732.9" width="28.5" height="44.1"/><rect x="1349.7" y="1732.9" width="28.5" height="44.1"/><rect x="1388.1" y="1735.3" width="28.5" height="41.7"/><rect x="1426.5" y="1736.5" width="28.5" height="40.5"/><rect x="1464.9" y="1736.5" width="28.5" height="40.5"/><rect x="1503.3" y="1736.5" width="28.5" height="40.5"/><rect x="1541.8" y="1738.9" width="28.5" height="38.1"/><rect x="1580.2" y="1738.9" width="28.5" height="38.1"/><rect x="1618.6" y="1738.9" width="28.5" height="38.1"/><rect x="1657.0" y="1738.9" width="28.5" height="38.1"/><rect x="1695.4" y="1740.1" width="28.5" height="36.9"/><rect x="1733.8" y="1740.1" width="28.5" height="36.9"/><rect x="1772.2" y="1740.1" width="28.5" height="36.9"/><rect x="1810.6" y="1740.1" width="28.5" height="36.9"/><rect x="1849.0" y="1740.1" width="28.5" height="36.9"/><rect x="1887.4" y="1740.1" width="28.5" height="36.9"/><rect x="1925.9" y="1740.1" width="28.5" height="36.9"/><rect x="1964.3" y="1740.1" width="28.5" height="36.9"/><rect x="2002.7" y="1741.5" width="28.5" height="35.5"/><rect x="2041.1" y="1741.5" width="28.5" height="35.5"/></g>
<text x="180.5" y="1785.5" font-size="30" text-anchor="end" transform="rotate(-90 180.5 1785.5)">ADIPONECTIN</text>
<text x="218.9" y="1785.5" font-size="30" text-anchor="end" transform="rotate(-90 218.9 1785.5)">VTN</text>
<text x="257.3" y="1785.5" font-size="30" text-anchor="end" transform="rotate(-90 257.3 1785.5)">AGRN</text>
<text x="295.7" y="1785.5" font-size="30" text-anchor="end" transform="rotate(-90 295.7 1785.5)">NEGR</text>
<text x="334.1" y="1785.5" font-size="30" text-anchor="end" transform="rotate(-90 334.1 1785.5)">TENASCIN</text>
<text x="369.5" y="1785.5" font-size="30" text-anchor="end" fill="#e8231c" transform="rotate(-90 369.5 1785.5)">IFN−II (IFN-γ)</text>
<text x="411.0" y="1785.5" font-size="30" text-anchor="end" transform="rotate(-90 411.0 1785.5)">VEGI</text>
<text x="449.4" y="1785.5" font-size="30" text-anchor="end" transform="rotate(-90 449.4 1785.5)">SAA</text>
<text x="487.8" y="1785.5" font-size="30" text-anchor="end" transform="rotate(-90 487.8 1785.5)">LIGHT</text>
<text x="526.2" y="1785.5" font-size="30" text-anchor="end" transform="rotate(-90 526.2 1785.5)">L1CAM</text>
<text x="564.6" y="1785.5" font-size="30" text-anchor="end" transform="rotate(-90 564.6 1785.5)">EGF</text>
<text x="603.0" y="1785.5" font-size="30" text-anchor="end" transform="rotate(-90 603.0 1785.5)">FASLG</text>
<text x="641.4" y="1785.5" font-size="30" text-anchor="end" transform="rotate(-90 641.4 1785.5)">BTLA</text>
<text x="679.8" y="1785.5" font-size="30" text-anchor="end" transform="rotate(-90 679.8 1785.5)">EPHB</text>
<text x="718.2" y="1785.5" font-size="30" text-anchor="end" transform="rotate(-90 718.2 1785.5)">CD46</text>
<text x="756.6" y="1785.5" font-size="30" text-anchor="end" transform="rotate(-90 756.6 1785.5)">CD48</text>
<text x="795.1" y="1785.5" font-size="30" text-anchor="end" transform="rotate(-90 795.1 1785.5)">IL16</text>
<text x="833.5" y="1785.5" font-size="30" text-anchor="end" transform="rotate(-90 833.5 1785.5)">EPHA</text>
<text x="871.9" y="1785.5" font-size="30" text-anchor="end" transform="rotate(-90 871.9 1785.5)">TGFβ</text>
<text x="910.3" y="1785.5" font-size="30" text-anchor="end" transform="rotate(-90 910.3 1785.5)">NCAM</text>
<text x="948.7" y="1785.5" font-size="30" text-anchor="end" transform="rotate(-90 948.7 1785.5)">SEMA4</text>
<text x="987.1" y="1785.5" font-size="30" text-anchor="end" transform="rotate(-90 987.1 1785.5)">ICAM</text>
<text x="1025.5" y="1785.5" font-size="30" text-anchor="end" transform="rotate(-90 1025.5 1785.5)">IL1</text>
<text x="1063.9" y="1785.5" font-size="30" text-anchor="end" transform="rotate(-90 1063.9 1785.5)">CDH1</text>
<text x="1102.3" y="1785.5" font-size="30" text-anchor="end" transform="rotate(-90 1102.3 1785.5)">BMP</text>
<text x="1140.8" y="1785.5" font-size="30" text-anchor="end" transform="rotate(-90 1140.8 1785.5)">BAG</text>
<text x="1179.2" y="1785.5" font-size="30" text-anchor="end" transform="rotate(-90 1179.2 1785.5)">ITGB2</text>
<text x="1217.6" y="1785.5" font-size="30" text-anchor="end" transform="rotate(-90 1217.6 1785.5)">JAM</text>
<text x="1256.0" y="1785.5" font-size="30" text-anchor="end" transform="rotate(-90 1256.0 1785.5)">TNF</text>
<text x="1294.4" y="1785.5" font-size="30" text-anchor="end" transform="rotate(-90 1294.4 1785.5)">TRAIL</text>
<text x="1332.8" y="1785.5" font-size="30" text-anchor="end" transform="rotate(-90 1332.8 1785.5)">CEACAM</text>
<text x="1371.2" y="1785.5" font-size="30" text-anchor="end" transform="rotate(-90 1371.2 1785.5)">LCK</text>
<text x="1409.6" y="1785.5" font-size="30" text-anchor="end" transform="rotate(-90 1409.6 1785.5)">VISFATIN</text>
<text x="1448.0" y="1785.5" font-size="30" text-anchor="end" transform="rotate(-90 1448.0 1785.5)">IL10</text>
<text x="1486.4" y="1785.5" font-size="30" text-anchor="end" transform="rotate(-90 1486.4 1785.5)">CLEC</text>
<text x="1524.8" y="1785.5" font-size="30" text-anchor="end" transform="rotate(-90 1524.8 1785.5)">TIGIT</text>
<text x="1563.3" y="1785.5" font-size="30" text-anchor="end" transform="rotate(-90 1563.3 1785.5)">CX3C</text>
<text x="1601.7" y="1785.5" font-size="30" text-anchor="end" transform="rotate(-90 1601.7 1785.5)">LEP</text>
<text x="1640.1" y="1785.5" font-size="30" text-anchor="end" transform="rotate(-90 1640.1 1785.5)">CNTN</text>
<text x="1678.5" y="1785.5" font-size="30" text-anchor="end" transform="rotate(-90 1678.5 1785.5)">PTN</text>
<text x="1716.9" y="1785.5" font-size="30" text-anchor="end" transform="rotate(-90 1716.9 1785.5)">PDGF</text>
<text x="1755.3" y="1785.5" font-size="30" text-anchor="end" transform="rotate(-90 1755.3 1785.5)">OPIOID</text>
<text x="1793.7" y="1785.5" font-size="30" text-anchor="end" transform="rotate(-90 1793.7 1785.5)">HSPG</text>
<text x="1832.1" y="1785.5" font-size="30" text-anchor="end" transform="rotate(-90 1832.1 1785.5)">FLT3</text>
<text x="1870.5" y="1785.5" font-size="30" text-anchor="end" transform="rotate(-90 1870.5 1785.5)">VCAM</text>
<text x="1908.9" y="1785.5" font-size="30" text-anchor="end" transform="rotate(-90 1908.9 1785.5)">MHC−I</text>
<text x="1947.4" y="1785.5" font-size="30" text-anchor="end" transform="rotate(-90 1947.4 1785.5)">ALCAM</text>
<text x="1985.8" y="1785.5" font-size="30" text-anchor="end" transform="rotate(-90 1985.8 1785.5)">CD6</text>
<text x="2024.2" y="1785.5" font-size="30" text-anchor="end" transform="rotate(-90 2024.2 1785.5)">GDF</text>
<text x="2062.6" y="1785.5" font-size="30" text-anchor="end" transform="rotate(-90 2062.6 1785.5)">CHEMERIN</text>
</g>
<g id="panel_d">
<text x="-1.0" y="2038.5" font-size="45" font-weight="bold">d</text>
<text x="450.0" y="2107.0" font-size="34" text-anchor="middle">Predicted target genes</text>
<text x="283.4" y="2167.6" font-size="30" text-anchor="middle" font-style="italic">IFNG</text>
<text x="398.8" y="2167.6" font-size="30" text-anchor="middle" font-style="italic">PELO</text>
<text x="524.1" y="2167.6" font-size="30" text-anchor="middle" font-style="italic">ARL4C</text>
<text x="649.2" y="2167.6" font-size="30" text-anchor="middle" font-style="italic">RGS2</text>
<rect x="239.1" y="2186.7" width="113.3" height="224.4" fill="#ecd2fd"/>
<rect x="239.1" y="2475.2" width="113.3" height="159.3" fill="#ecd2fd"/>
<rect x="239.1" y="2187.4" width="113.3" height="30.7" fill="#d079fc"/>
<rect x="239.1" y="2219.5" width="113.3" height="30.7" fill="#d68bfc"/>
<rect x="239.1" y="2251.5" width="113.3" height="30.7" fill="#c967fc"/>
<rect x="239.1" y="2283.6" width="113.3" height="30.7" fill="#d079fc"/>
<rect x="239.1" y="2315.6" width="113.3" height="30.7" fill="#dea1fd"/>
<rect x="239.1" y="2347.7" width="113.3" height="30.7" fill="#d994fd"/>
<rect x="239.1" y="2379.8" width="113.3" height="30.7" fill="#dea1fd"/>
<rect x="353.6" y="2411.8" width="113.8" height="30.7" fill="#d890fc"/>
<rect x="468.6" y="2443.9" width="113.8" height="30.7" fill="#d890fc"/>
<rect x="239.1" y="2475.9" width="113.3" height="30.7" fill="#bc41fb"/>
<rect x="239.1" y="2508.0" width="113.3" height="30.7" fill="#dc9dfd"/>
<rect x="239.1" y="2540.1" width="113.3" height="30.7" fill="#b020fa"/>
<rect x="239.1" y="2572.1" width="113.3" height="30.7" fill="#dea1fd"/>
<rect x="239.1" y="2604.2" width="113.3" height="30.7" fill="#b630fa"/>
<rect x="468.6" y="2251.5" width="113.8" height="30.7" fill="#dea1fd"/>
<rect x="583.6" y="2251.5" width="112.5" height="30.7" fill="#dea1fd"/>
<rect x="234" y="2183.6" width="464.2" height="453.2" fill="none" stroke="#000" stroke-width="2.4"/>
<text x="224.3" y="2212.9" font-size="29.5" text-anchor="end" font-style="italic">CD86</text>
<text x="224.3" y="2245.8" font-size="29.5" text-anchor="end" font-style="italic">ICAM1</text>
<text x="219.0" y="2278.6" font-size="29.5" text-anchor="end" font-style="italic">IL2</text>
<text x="224.3" y="2311.5" font-size="29.5" text-anchor="end" font-style="italic">CD28</text>
<text x="230.5" y="2344.3" font-size="29.5" text-anchor="end" font-style="italic">HLA-DRA</text>
<text x="224.3" y="2377.2" font-size="29.5" text-anchor="end" font-style="italic">CD80</text>
<text x="226.7" y="2410.0" font-size="29.5" text-anchor="end" font-style="italic">PLAT</text>
<text x="225.4" y="2442.8" font-size="29.5" text-anchor="end" font-style="italic">APOE</text>
<text x="222.0" y="2475.7" font-size="29.5" text-anchor="end" font-style="italic">IL15</text>
<text x="222.0" y="2508.6" font-size="29.5" text-anchor="end" font-style="italic">IL18</text>
<text x="231.5" y="2541.4" font-size="29.5" text-anchor="end" font-style="italic">ADAM17</text>
<text x="223.5" y="2574.2" font-size="29.5" text-anchor="end" font-style="italic">IL12A</text>
<text x="223.5" y="2607.1" font-size="29.5" text-anchor="end" font-style="italic">CCL2</text>
<text x="223.5" y="2640.0" font-size="29.5" text-anchor="end" font-style="italic">IL23A</text>
<text x="88.4" y="2394.8" font-size="33.5" text-anchor="middle" transform="rotate(-90 88.4 2394.8)">Prioritized ligands</text>
<defs><linearGradient id="rp" x1="0" x2="1" y1="0" y2="0"><stop offset="0" stop-color="#fff"/><stop offset="1" stop-color="#b228fa"/></linearGradient></defs>
<rect x="503" y="2652" width="184" height="31" fill="url(#rp)"/>
<rect x="617.8" y="2652" width="1.6" height="31" fill="#fff" opacity="0.8"/>
<text x="228.0" y="2681.0" font-size="30">Regulatory potential</text>
<text x="505.0" y="2710.0" font-size="28.5">low</text>
<text x="626.0" y="2710.0" font-size="28.5">high</text>
</g>
<g id="panel_e">
<text x="772.0" y="2052.0" font-size="45" font-weight="bold">e</text>
<text x="1005.5" y="2106.7" font-size="33.8">IFNG-(IFNGR1+IFNGR2) signaling network</text>
<text x="871.5" y="2168.2" font-size="30" text-anchor="middle" fill="#c9448b">Source</text>
<text x="1072.4" y="2168.2" font-size="30" text-anchor="middle" fill="#c9448b">Target</text>
<text x="1246.7" y="2168.2" font-size="30" text-anchor="middle" fill="#3f7f80">Source</text>
<path d="M844.6 2189.5 H1062.4" stroke="#c9448b" stroke-width="1.6" opacity="0.85"/>
<path d="M1072.4 2189.5 l-14 -3.6 v7.2z" fill="#c9448b"/>
<path d="M1086 2189.5 H1290" stroke="#3f7f80" stroke-width="1.6" opacity="0.85"/>
<path d="M1076 2189.5 l14 -3.6 v7.2z" fill="#3f7f80"/>
<path d="M858.7 2641.4 L1066.5 2216.1" stroke="#d4e27a" stroke-width="1.3" opacity="0.9"/>
<path d="M858.7 2641.4 L1066.5 2641.4" stroke="#e4e474" stroke-width="3" opacity="0.9"/>
<path d="M1274.4 2564.0 L1066.5 2641.4" stroke="#8e94c4" stroke-width="1.2" opacity="0.9"/>
<circle cx="858.7" cy="2216.1" r="12.4" fill="#a8e080"/>
<circle cx="858.7" cy="2641.4" r="12.4" fill="#dcc82a"/>
<circle cx="1066.5" cy="2216.1" r="11.2" fill="#fff" stroke="#8fd868" stroke-width="2.2"/>
<circle cx="1066.5" cy="2641.4" r="11.2" fill="#fff" stroke="#d4c81c" stroke-width="2.2"/>
<circle cx="1274.4" cy="2216.1" r="12.4" fill="#ee2a24"/>
<circle cx="1274.4" cy="2254.8" r="12.4" fill="#4484c4"/>
<circle cx="1274.4" cy="2293.4" r="12.4" fill="#4cb848"/>
<circle cx="1274.4" cy="2332.1" r="12.4" fill="#9446b8"/>
<circle cx="1274.4" cy="2370.7" r="12.4" fill="#ee9422"/>
<circle cx="1274.4" cy="2409.4" r="12.4" fill="#f47cc8"/>
<circle cx="1274.4" cy="2448.1" r="12.4" fill="#b898d8"/>
<circle cx="1274.4" cy="2486.7" r="12.4" fill="#b4582a"/>
<circle cx="1274.4" cy="2525.4" r="12.4" fill="#5cb8ec"/>
<circle cx="1274.4" cy="2564.0" r="12.4" fill="#1e2e7c"/>
<circle cx="1274.4" cy="2602.7" r="12.4" fill="#3cac7c"/>
<circle cx="1274.4" cy="2641.4" r="12.4" fill="#f08c98"/>
<text x="782.0" y="2267.2" font-size="30">SPON2<tspan font-size="20" dy="-11">-</tspan><tspan dy="11">NK</tspan></text>
<text x="792.7" y="2694.5" font-size="30">SPON2<tspan font-size="20" dy="-11">+</tspan><tspan dy="11">NK</tspan></text>
<text x="1384.7" y="2168.3" font-size="30" text-anchor="middle" fill="#c9448b">Source</text>
<text x="1614.6" y="2168.3" font-size="30" text-anchor="middle" fill="#3f7f80">Target</text>
<text x="1824.3" y="2168.3" font-size="30" text-anchor="middle" fill="#3f7f80">Source</text>
<path d="M1370.7 2190 H1602.6" stroke="#c9448b" stroke-width="1.6" opacity="0.85"/>
<path d="M1612.6 2190 l-14 -3.6 v7.2z" fill="#c9448b"/>
<path d="M1628.3 2190 H1843.7" stroke="#3f7f80" stroke-width="1.6" opacity="0.85"/>
<path d="M1618.3 2190 l14 -3.6 v7.2z" fill="#3f7f80"/>
<path d="M1385.1 2216.2 L1606.0 2216.2" stroke="#a8e080" stroke-width="1.2" opacity="0.8" fill="none"/>
<path d="M1385.1 2216.2 L1606.0 2255.4" stroke="#a8e080" stroke-width="1.0" opacity="0.7" fill="none"/>
<path d="M1385.1 2216.2 L1606.0 2608.4" stroke="#a8e080" stroke-width="1.8" opacity="0.8" fill="none"/>
<path d="M1385.1 2216.2 L1606.0 2451.5" stroke="#a8e080" stroke-width="1" opacity="0.55" fill="none"/>
<path d="M1385.1 2216.2 L1606.0 2490.7" stroke="#a8e080" stroke-width="1" opacity="0.55" fill="none"/>
<path d="M1385.1 2216.2 L1606.0 2647.6" stroke="#a8e080" stroke-width="1" opacity="0.5" fill="none"/>
<path d="M1385.1 2216.2 L1606.0 2373.1" stroke="#a8e080" stroke-width="0.9" opacity="0.45" fill="none"/>
<path d="M1385.1 2216.2 L1606.0 2333.9" stroke="#a8e080" stroke-width="0.9" opacity="0.4" fill="none"/>
<path d="M1385.1 2647.6 L1606.0 2216.2" stroke="#d8cc38" stroke-width="5.2" opacity="0.85" fill="none"/>
<path d="M1385.1 2647.6 L1606.0 2255.4" stroke="#d8cc38" stroke-width="4.2" opacity="0.85" fill="none"/>
<path d="M1385.1 2647.6 L1606.0 2294.6" stroke="#d2dc5a" stroke-width="1.8" opacity="0.8" fill="none"/>
<path d="M1385.1 2647.6 L1606.0 2333.9" stroke="#d2dc5a" stroke-width="1.8" opacity="0.8" fill="none"/>
<path d="M1385.1 2647.6 L1606.0 2373.1" stroke="#d2dc5a" stroke-width="2" opacity="0.8" fill="none"/>
<path d="M1385.1 2647.6 L1606.0 2412.3" stroke="#d2dc5a" stroke-width="1.7" opacity="0.75" fill="none"/>
<path d="M1385.1 2647.6 L1606.0 2451.5" stroke="#d8cc38" stroke-width="3.3" opacity="0.85" fill="none"/>
<path d="M1385.1 2647.6 L1606.0 2490.7" stroke="#d8cc38" stroke-width="3.8" opacity="0.85" fill="none"/>
<path d="M1385.1 2647.6 L1606.0 2530.0" stroke="#d2dc5a" stroke-width="1.3" opacity="0.7" fill="none"/>
<path d="M1385.1 2647.6 L1606.0 2569.2" stroke="#d2dc5a" stroke-width="1.3" opacity="0.7" fill="none"/>
<path d="M1385.1 2647.6 L1606.0 2608.4" stroke="#d8cc38" stroke-width="9.5" opacity="0.88" fill="none"/>
<path d="M1385.1 2647.6 L1606.0 2647.6" stroke="#d2dc5a" stroke-width="1.3" opacity="0.6" fill="none"/>
<path d="M1826.1 2569.2 L1606.0 2216.2" stroke="#1e2e7c" stroke-width="3.2" opacity="0.75" fill="none"/>
<path d="M1826.1 2569.2 L1606.0 2255.4" stroke="#1e2e7c" stroke-width="3.2" opacity="0.75" fill="none"/>
<path d="M1826.1 2569.2 L1606.0 2333.9" stroke="#1e2e7c" stroke-width="1" opacity="0.6" fill="none"/>
<path d="M1826.1 2569.2 L1606.0 2373.1" stroke="#1e2e7c" stroke-width="1" opacity="0.6" fill="none"/>
<path d="M1826.1 2569.2 L1606.0 2412.3" stroke="#1e2e7c" stroke-width="1.2" opacity="0.6" fill="none"/>
<path d="M1826.1 2569.2 L1606.0 2451.5" stroke="#1e2e7c" stroke-width="2.2" opacity="0.75" fill="none"/>
<path d="M1826.1 2569.2 L1606.0 2490.7" stroke="#1e2e7c" stroke-width="2.2" opacity="0.75" fill="none"/>
<path d="M1826.1 2569.2 L1606.0 2569.2" stroke="#1e2e7c" stroke-width="1.2" opacity="0.45" fill="none"/>
<path d="M1826.1 2569.2 L1606.0 2608.4" stroke="#1e2e7c" stroke-width="5.5" opacity="0.7" fill="none"/>
<path d="M1826.1 2490.7 L1606.0 2608.4" stroke="#b4582a" stroke-width="3.8" opacity="0.8" fill="none"/>
<path d="M1826.1 2490.7 L1606.0 2216.2" stroke="#b4582a" stroke-width="2" opacity="0.75" fill="none"/>
<path d="M1826.1 2490.7 L1606.0 2490.7" stroke="#b4582a" stroke-width="1.4" opacity="0.7" fill="none"/>
<path d="M1826.1 2490.7 L1606.0 2451.5" stroke="#b4582a" stroke-width="1.1" opacity="0.6" fill="none"/>
<path d="M1826.1 2490.7 L1606.0 2255.4" stroke="#b4582a" stroke-width="1.1" opacity="0.6" fill="none"/>
<path d="M1826.1 2255.4 L1606.0 2216.2" stroke="#4484c4" stroke-width="1.4" opacity="0.8" fill="none"/>
<path d="M1826.1 2255.4 L1606.0 2255.4" stroke="#4484c4" stroke-width="2" opacity="0.7" fill="none"/>
<path d="M1826.1 2255.4 L1606.0 2608.4" stroke="#4484c4" stroke-width="2.6" opacity="0.75" fill="none"/>
<path d="M1826.1 2255.4 L1606.0 2490.7" stroke="#4484c4" stroke-width="1" opacity="0.6" fill="none"/>
<path d="M1826.1 2255.4 L1606.0 2451.5" stroke="#4484c4" stroke-width="1" opacity="0.6" fill="none"/>
<path d="M1826.1 2373.1 L1606.0 2216.2" stroke="#ee9422" stroke-width="1.4" opacity="0.75" fill="none"/>
<path d="M1826.1 2373.1 L1606.0 2255.4" stroke="#ee9422" stroke-width="1.4" opacity="0.75" fill="none"/>
<path d="M1826.1 2373.1 L1606.0 2608.4" stroke="#ee9422" stroke-width="2.2" opacity="0.75" fill="none"/>
<path d="M1826.1 2412.3 L1606.0 2216.2" stroke="#f47cc8" stroke-width="1.2" opacity="0.6" fill="none"/>
<path d="M1826.1 2412.3 L1606.0 2255.4" stroke="#f47cc8" stroke-width="1.2" opacity="0.6" fill="none"/>
<path d="M1826.1 2412.3 L1606.0 2490.7" stroke="#f47cc8" stroke-width="1.2" opacity="0.6" fill="none"/>
<path d="M1826.1 2412.3 L1606.0 2608.4" stroke="#f47cc8" stroke-width="1.2" opacity="0.6" fill="none"/>
<path d="M1826.1 2530.0 L1606.0 2451.5" stroke="#5cb8ec" stroke-width="1.2" opacity="0.7" fill="none"/>
<path d="M1826.1 2530.0 L1606.0 2490.7" stroke="#5cb8ec" stroke-width="1.2" opacity="0.7" fill="none"/>
<path d="M1826.1 2530.0 L1606.0 2608.4" stroke="#5cb8ec" stroke-width="1.6" opacity="0.7" fill="none"/>
<path d="M1826.1 2530.0 L1606.0 2216.2" stroke="#5cb8ec" stroke-width="1.1" opacity="0.6" fill="none"/>
<path d="M1826.1 2530.0 L1606.0 2255.4" stroke="#5cb8ec" stroke-width="1.1" opacity="0.6" fill="none"/>
<path d="M1826.1 2608.4 L1606.0 2608.4" stroke="#3cac7c" stroke-width="2.2" opacity="0.8" fill="none"/>
<path d="M1826.1 2608.4 L1606.0 2216.2" stroke="#3cac7c" stroke-width="1.1" opacity="0.7" fill="none"/>
<path d="M1826.1 2608.4 L1606.0 2255.4" stroke="#3cac7c" stroke-width="1.1" opacity="0.7" fill="none"/>
<path d="M1826.1 2608.4 L1606.0 2490.7" stroke="#3cac7c" stroke-width="1" opacity="0.6" fill="none"/>
<path d="M1826.1 2608.4 L1606.0 2451.5" stroke="#3cac7c" stroke-width="1" opacity="0.5" fill="none"/>
<path d="M1826.1 2333.9 L1606.0 2608.4" stroke="#9446b8" stroke-width="1" opacity="0.5" fill="none"/>
<path d="M1826.1 2451.5 L1606.0 2608.4" stroke="#b898d8" stroke-width="1" opacity="0.5" fill="none"/>
<path d="M1826.1 2451.5 L1606.0 2216.2" stroke="#b898d8" stroke-width="1" opacity="0.4" fill="none"/>
<circle cx="1385.1" cy="2216.2" r="12.6" fill="#a8e080"/>
<circle cx="1385.1" cy="2647.6" r="12.6" fill="#dcc82a"/>
<circle cx="1606.0" cy="2216.2" r="10.8" fill="#fff" stroke="#ee2a24" stroke-width="2.4"/>
<rect x="1834.1" y="2212.2" width="8" height="8" fill="#ee2a24"/>
<circle cx="1826.1" cy="2216.2" r="12.2" fill="#ee2a24"/>
<text x="1851.5" y="2223.9" font-size="30">C15_Mey.</text>
<circle cx="1606.0" cy="2255.4" r="10.8" fill="#fff" stroke="#4484c4" stroke-width="2.4"/>
<rect x="1834.1" y="2251.4" width="8" height="8" fill="#4484c4"/>
<circle cx="1826.1" cy="2255.4" r="12.2" fill="#4484c4"/>
<text x="1851.5" y="2263.5" font-size="30">C17_Endo.</text>
<circle cx="1606.0" cy="2294.6" r="10.8" fill="#fff" stroke="#4cb848" stroke-width="2.4"/>
<rect x="1834.1" y="2290.6" width="8" height="8" fill="#4cb848"/>
<circle cx="1826.1" cy="2294.6" r="12.2" fill="#4cb848"/>
<text x="1851.5" y="2303.0" font-size="30">C18_Epi.</text>
<circle cx="1606.0" cy="2333.9" r="10.8" fill="#fff" stroke="#9446b8" stroke-width="2.4"/>
<rect x="1834.1" y="2329.9" width="8" height="8" fill="#9446b8"/>
<circle cx="1826.1" cy="2333.9" r="12.2" fill="#9446b8"/>
<text x="1851.5" y="2342.6" font-size="30">C19_T cell</text>
<circle cx="1606.0" cy="2373.1" r="10.8" fill="#fff" stroke="#ee9422" stroke-width="2.4"/>
<rect x="1834.1" y="2369.1" width="8" height="8" fill="#ee9422"/>
<circle cx="1826.1" cy="2373.1" r="12.2" fill="#ee9422"/>
<text x="1851.5" y="2382.1" font-size="30">C21_pDC</text>
<circle cx="1606.0" cy="2412.3" r="10.8" fill="#fff" stroke="#f47cc8" stroke-width="2.4"/>
<rect x="1834.1" y="2408.3" width="8" height="8" fill="#f47cc8"/>
<circle cx="1826.1" cy="2412.3" r="12.2" fill="#f47cc8"/>
<text x="1851.5" y="2421.7" font-size="30">C22_Plasma</text>
<circle cx="1606.0" cy="2451.5" r="10.8" fill="#fff" stroke="#b898d8" stroke-width="2.4"/>
<rect x="1834.1" y="2447.5" width="8" height="8" fill="#b898d8"/>
<circle cx="1826.1" cy="2451.5" r="12.2" fill="#b898d8"/>
<text x="1851.5" y="2461.2" font-size="30">C23_HSC</text>
<circle cx="1606.0" cy="2490.7" r="10.8" fill="#fff" stroke="#b4582a" stroke-width="2.4"/>
<rect x="1834.1" y="2486.7" width="8" height="8" fill="#b4582a"/>
<circle cx="1826.1" cy="2490.7" r="12.2" fill="#b4582a"/>
<text x="1851.5" y="2500.8" font-size="30">C6_Bcell</text>
<circle cx="1606.0" cy="2530.0" r="10.8" fill="#fff" stroke="#5cb8ec" stroke-width="2.4"/>
<rect x="1834.1" y="2526.0" width="8" height="8" fill="#5cb8ec"/>
<circle cx="1826.1" cy="2530.0" r="12.2" fill="#5cb8ec"/>
<text x="1851.5" y="2540.3" font-size="30">CD4<tspan font-size="19" dy="-11">+</tspan><tspan dy="11"> T</tspan></text>
<circle cx="1606.0" cy="2569.2" r="10.8" fill="#fff" stroke="#1e2e7c" stroke-width="2.4"/>
<rect x="1834.1" y="2565.2" width="8" height="8" fill="#1e2e7c"/>
<circle cx="1826.1" cy="2569.2" r="12.2" fill="#1e2e7c"/>
<text x="1851.5" y="2579.8" font-size="30">CD8<tspan font-size="19" dy="-11">+</tspan><tspan dy="11"> T</tspan></text>
<circle cx="1606.0" cy="2608.4" r="10.8" fill="#fff" stroke="#3cac7c" stroke-width="2.4"/>
<rect x="1834.1" y="2604.4" width="8" height="8" fill="#3cac7c"/>
<circle cx="1826.1" cy="2608.4" r="12.2" fill="#3cac7c"/>
<text x="1851.5" y="2619.4" font-size="30">Myeloid</text>
<circle cx="1606.0" cy="2647.6" r="10.8" fill="#fff" stroke="#f08c98" stroke-width="2.4"/>
<rect x="1834.1" y="2643.6" width="8" height="8" fill="#f08c98"/>
<circle cx="1826.1" cy="2647.6" r="12.2" fill="#f08c98"/>
<text x="1851.5" y="2658.9" font-size="30">Tumor</text>
</g>
</svg>
</body></html>
